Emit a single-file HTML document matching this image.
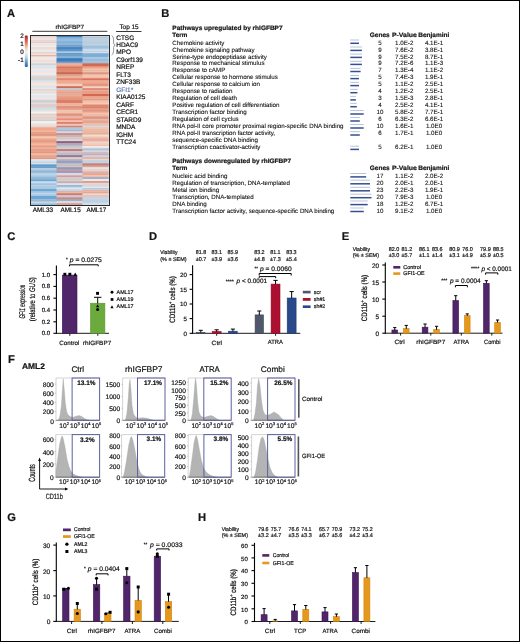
<!DOCTYPE html>
<html><head><meta charset="utf-8"><title>Figure</title>
<style>
html,body{margin:0;padding:0;background:#fff;}
body{width:520px;height:642px;overflow:hidden;}
#fig{position:relative;width:520px;height:642px;box-sizing:border-box;border:1px solid #000;background:#fff;}
svg{position:absolute;left:-1px;top:-1px;display:block;will-change:transform;}
svg text{font-family:"Liberation Sans",sans-serif;text-rendering:geometricPrecision;stroke:#141414;stroke-width:0.2px;}
svg text.tb{stroke-width:0.1px;}
</style></head>
<body><div id="fig">
<svg width="520" height="642" viewBox="0 0 520 642">
<text x="7.1" y="17.1" font-size="11.2" font-weight="bold" fill="#141414">A</text>
<text x="161.3" y="17.2" font-size="11.2" font-weight="bold" fill="#141414">B</text>
<text x="7.3" y="239.79999999999998" font-size="11.2" font-weight="bold" fill="#141414">C</text>
<text x="149.0" y="239.79999999999998" font-size="11.2" font-weight="bold" fill="#141414">D</text>
<text x="341.7" y="240.2" font-size="11.2" font-weight="bold" fill="#141414">E</text>
<text x="7.9" y="362.8" font-size="11.2" font-weight="bold" fill="#141414">F</text>
<text x="7.2" y="520.7" font-size="11.2" font-weight="bold" fill="#141414">G</text>
<text x="197.9" y="520.7" font-size="11.2" font-weight="bold" fill="#141414">H</text>
<rect x="30.80" y="35.40" width="26.50" height="1.70" fill="#f0eeee"/>
<rect x="30.80" y="36.80" width="26.50" height="5.00" fill="#f3e6e1"/>
<rect x="30.80" y="41.50" width="26.50" height="1.80" fill="#e9d2d5"/>
<rect x="30.80" y="43.00" width="26.50" height="5.30" fill="#f0eae8"/>
<rect x="30.80" y="48.00" width="26.50" height="2.30" fill="#f3e6e1"/>
<rect x="30.80" y="50.00" width="26.50" height="5.30" fill="#efeae8"/>
<rect x="30.80" y="55.00" width="26.50" height="1.30" fill="#efa292"/>
<rect x="30.80" y="56.00" width="26.50" height="7.80" fill="#f3e6e2"/>
<rect x="30.80" y="63.50" width="26.50" height="2.80" fill="#dee6ec"/>
<rect x="30.80" y="66.00" width="26.50" height="2.30" fill="#d5e1ea"/>
<rect x="30.80" y="68.00" width="26.50" height="2.30" fill="#f1e5e2"/>
<rect x="30.80" y="70.00" width="26.50" height="2.30" fill="#e9e8eb"/>
<rect x="30.80" y="72.00" width="26.50" height="2.30" fill="#efe6e5"/>
<rect x="30.80" y="74.00" width="26.50" height="2.30" fill="#e4e8ec"/>
<rect x="30.80" y="76.00" width="26.50" height="2.30" fill="#f3e3da"/>
<rect x="30.80" y="78.00" width="26.50" height="4.30" fill="#e0e7ec"/>
<rect x="30.80" y="82.00" width="26.50" height="4.30" fill="#f2e5df"/>
<rect x="30.80" y="86.00" width="26.50" height="2.30" fill="#dce6ec"/>
<rect x="30.80" y="88.00" width="26.50" height="4.30" fill="#f1e4df"/>
<rect x="30.80" y="92.00" width="26.50" height="3.30" fill="#f2efee"/>
<rect x="30.80" y="95.00" width="26.50" height="2.30" fill="#dce6ee"/>
<rect x="30.80" y="97.00" width="26.50" height="3.30" fill="#efe2de"/>
<rect x="30.80" y="100.00" width="26.50" height="2.30" fill="#d6e3ed"/>
<rect x="30.80" y="102.00" width="26.50" height="2.30" fill="#efe4e1"/>
<rect x="30.80" y="104.00" width="26.50" height="4.30" fill="#ebe2e0"/>
<rect x="30.80" y="108.00" width="26.50" height="2.30" fill="#e0e8ee"/>
<rect x="30.80" y="110.00" width="26.50" height="3.30" fill="#f3f2f1"/>
<rect x="30.80" y="113.00" width="26.50" height="5.30" fill="#efe0da"/>
<rect x="30.80" y="118.00" width="26.50" height="3.30" fill="#ebe0dd"/>
<rect x="30.80" y="121.00" width="26.50" height="4.30" fill="#f3f0ef"/>
<rect x="30.80" y="125.00" width="26.50" height="2.60" fill="#f0dcd5"/>
<rect x="30.80" y="127.30" width="26.50" height="3.00" fill="#f0a48a"/>
<rect x="30.80" y="130.00" width="26.50" height="2.30" fill="#f3b49e"/>
<rect x="30.80" y="132.00" width="26.50" height="4.30" fill="#efa58b"/>
<rect x="30.80" y="136.00" width="26.50" height="2.30" fill="#f4bda8"/>
<rect x="30.80" y="138.00" width="26.50" height="5.30" fill="#f0a68d"/>
<rect x="30.80" y="143.00" width="26.50" height="2.30" fill="#f3b7a2"/>
<rect x="30.80" y="145.00" width="26.50" height="6.80" fill="#f0a78e"/>
<rect x="30.80" y="151.50" width="26.50" height="1.60" fill="#e78b76"/>
<rect x="30.80" y="152.80" width="26.50" height="3.50" fill="#f3b9a3"/>
<rect x="30.80" y="156.00" width="26.50" height="2.30" fill="#f0ac94"/>
<rect x="30.80" y="158.00" width="26.50" height="1.30" fill="#e9977f"/>
<rect x="30.80" y="159.00" width="26.50" height="6.10" fill="#d6e2ec"/>
<rect x="30.80" y="164.80" width="26.50" height="3.80" fill="#5f9bcd"/>
<rect x="30.80" y="168.30" width="26.50" height="2.00" fill="#c4d9ea"/>
<rect x="30.80" y="170.00" width="26.50" height="3.30" fill="#9fc3e2"/>
<rect x="30.80" y="173.00" width="26.50" height="2.30" fill="#b7d2e8"/>
<rect x="30.80" y="175.00" width="26.50" height="4.30" fill="#a2c5e3"/>
<rect x="30.80" y="179.00" width="26.50" height="2.30" fill="#6ea6d4"/>
<rect x="30.80" y="181.00" width="26.50" height="2.30" fill="#c8dcec"/>
<rect x="30.80" y="183.00" width="26.50" height="2.30" fill="#9ec3e2"/>
<rect x="30.80" y="185.00" width="26.50" height="1.80" fill="#c8dcec"/>
<rect x="30.80" y="186.50" width="26.50" height="2.80" fill="#a5c7e4"/>
<rect x="30.80" y="189.00" width="26.50" height="2.30" fill="#6ea6d4"/>
<rect x="30.80" y="191.00" width="26.50" height="2.30" fill="#a9cae6"/>
<rect x="30.80" y="193.00" width="26.50" height="1.80" fill="#cfe0ee"/>
<rect x="30.80" y="194.50" width="26.50" height="1.80" fill="#9ec3e2"/>
<rect x="30.80" y="196.00" width="26.50" height="3.30" fill="#6ea6d4"/>
<rect x="30.80" y="199.00" width="26.50" height="2.30" fill="#a7c8e4"/>
<rect x="30.80" y="201.00" width="26.50" height="2.30" fill="#c8dcec"/>
<rect x="30.80" y="203.00" width="26.50" height="2.50" fill="#8bb9de"/>
<rect x="30.80" y="35.40" width="26.50" height="1.00" fill="#dcdada"/>
<rect x="30.80" y="36.40" width="26.50" height="1.00" fill="#daceca"/>
<rect x="30.80" y="37.40" width="26.50" height="1.00" fill="#ebdfda"/>
<rect x="30.80" y="38.40" width="26.50" height="1.00" fill="#f3e6e1"/>
<rect x="30.80" y="39.40" width="26.50" height="1.00" fill="#efe2dd"/>
<rect x="30.80" y="40.40" width="26.50" height="1.00" fill="#dbcfcb"/>
<rect x="30.80" y="41.40" width="26.50" height="1.00" fill="#ecd8da"/>
<rect x="30.80" y="42.40" width="26.50" height="1.00" fill="#dac4c7"/>
<rect x="30.80" y="43.40" width="26.50" height="1.00" fill="#f3eeec"/>
<rect x="30.80" y="44.40" width="26.50" height="1.00" fill="#eae4e2"/>
<rect x="30.80" y="46.40" width="26.50" height="1.00" fill="#f2edeb"/>
<rect x="30.80" y="47.40" width="26.50" height="1.00" fill="#dcd6d4"/>
<rect x="30.80" y="48.40" width="26.50" height="1.00" fill="#e8dbd7"/>
<rect x="30.80" y="50.40" width="26.50" height="1.00" fill="#f0ebe9"/>
<rect x="30.80" y="51.40" width="26.50" height="1.00" fill="#e8e3e1"/>
<rect x="30.80" y="52.40" width="26.50" height="1.00" fill="#d6d1d0"/>
<rect x="30.80" y="53.40" width="26.50" height="1.00" fill="#ded9d8"/>
<rect x="30.80" y="54.40" width="26.50" height="1.00" fill="#ebe6e4"/>
<rect x="30.80" y="55.40" width="26.50" height="1.00" fill="#f0a596"/>
<rect x="30.80" y="56.40" width="26.50" height="1.00" fill="#e7dbd7"/>
<rect x="30.80" y="57.40" width="26.50" height="1.00" fill="#f4e8e4"/>
<rect x="30.80" y="58.40" width="26.50" height="1.00" fill="#f3e7e3"/>
<rect x="30.80" y="59.40" width="26.50" height="1.00" fill="#f5eae6"/>
<rect x="30.80" y="60.40" width="26.50" height="1.00" fill="#e7dad6"/>
<rect x="30.80" y="62.40" width="26.50" height="1.00" fill="#eee1de"/>
<rect x="30.80" y="63.40" width="26.50" height="1.00" fill="#cbd3d8"/>
<rect x="30.80" y="64.40" width="26.50" height="1.00" fill="#c5cdd2"/>
<rect x="30.80" y="65.40" width="26.50" height="1.00" fill="#e1e9ee"/>
<rect x="30.80" y="66.40" width="26.50" height="1.00" fill="#dbe6ed"/>
<rect x="30.80" y="67.40" width="26.50" height="1.00" fill="#d8e3ec"/>
<rect x="30.80" y="68.40" width="26.50" height="1.00" fill="#f1e6e3"/>
<rect x="30.80" y="69.40" width="26.50" height="1.00" fill="#f3e9e6"/>
<rect x="30.80" y="71.40" width="26.50" height="1.00" fill="#eaeaec"/>
<rect x="30.80" y="72.40" width="26.50" height="1.00" fill="#f0e8e7"/>
<rect x="30.80" y="73.40" width="26.50" height="1.00" fill="#f2ebea"/>
<rect x="30.80" y="75.40" width="26.50" height="1.00" fill="#dee2e6"/>
<rect x="30.80" y="76.40" width="26.50" height="1.00" fill="#d7c9c1"/>
<rect x="30.80" y="77.40" width="26.50" height="1.00" fill="#e0d1c9"/>
<rect x="30.80" y="78.40" width="26.50" height="1.00" fill="#c8cfd3"/>
<rect x="30.80" y="79.40" width="26.50" height="1.00" fill="#ccd2d7"/>
<rect x="30.80" y="80.40" width="26.50" height="1.00" fill="#dae1e6"/>
<rect x="30.80" y="82.40" width="26.50" height="1.00" fill="#efe2dc"/>
<rect x="30.80" y="83.40" width="26.50" height="1.00" fill="#f4e9e4"/>
<rect x="30.80" y="86.40" width="26.50" height="1.00" fill="#d8e1e7"/>
<rect x="30.80" y="87.40" width="26.50" height="1.00" fill="#e1eaef"/>
<rect x="30.80" y="89.40" width="26.50" height="1.00" fill="#ded2ce"/>
<rect x="30.80" y="90.40" width="26.50" height="1.00" fill="#e2d5d1"/>
<rect x="30.80" y="91.40" width="26.50" height="1.00" fill="#f1e5e0"/>
<rect x="30.80" y="92.40" width="26.50" height="1.00" fill="#d5d3d2"/>
<rect x="30.80" y="93.40" width="26.50" height="1.00" fill="#eae8e7"/>
<rect x="30.80" y="94.40" width="26.50" height="1.00" fill="#f4f2f1"/>
<rect x="30.80" y="95.40" width="26.50" height="1.00" fill="#dce6ee"/>
<rect x="30.80" y="96.40" width="26.50" height="1.00" fill="#dee8ef"/>
<rect x="30.80" y="97.40" width="26.50" height="1.00" fill="#f2e7e3"/>
<rect x="30.80" y="98.40" width="26.50" height="1.00" fill="#f1e6e3"/>
<rect x="30.80" y="99.40" width="26.50" height="1.00" fill="#e9dcd8"/>
<rect x="30.80" y="100.40" width="26.50" height="1.00" fill="#c2cdd6"/>
<rect x="30.80" y="101.40" width="26.50" height="1.00" fill="#c0cbd4"/>
<rect x="30.80" y="102.40" width="26.50" height="1.00" fill="#ded4d1"/>
<rect x="30.80" y="103.40" width="26.50" height="1.00" fill="#e6dbd8"/>
<rect x="30.80" y="104.40" width="26.50" height="1.00" fill="#cfc7c5"/>
<rect x="30.80" y="105.40" width="26.50" height="1.00" fill="#d5cccb"/>
<rect x="30.80" y="106.40" width="26.50" height="1.00" fill="#d0c8c6"/>
<rect x="30.80" y="108.40" width="26.50" height="1.00" fill="#cdd4da"/>
<rect x="30.80" y="109.40" width="26.50" height="1.00" fill="#d8e0e5"/>
<rect x="30.80" y="110.40" width="26.50" height="1.00" fill="#dddcdb"/>
<rect x="30.80" y="113.40" width="26.50" height="1.00" fill="#eedfd9"/>
<rect x="30.80" y="114.40" width="26.50" height="1.00" fill="#d8cbc5"/>
<rect x="30.80" y="115.40" width="26.50" height="1.00" fill="#e2d3ce"/>
<rect x="30.80" y="117.40" width="26.50" height="1.00" fill="#d4c6c1"/>
<rect x="30.80" y="119.40" width="26.50" height="1.00" fill="#d7cdca"/>
<rect x="30.80" y="120.40" width="26.50" height="1.00" fill="#d0c7c4"/>
<rect x="30.80" y="121.40" width="26.50" height="1.00" fill="#f5f3f2"/>
<rect x="30.80" y="123.40" width="26.50" height="1.00" fill="#e5e2e1"/>
<rect x="30.80" y="124.40" width="26.50" height="1.00" fill="#e0dddc"/>
<rect x="30.80" y="125.40" width="26.50" height="1.00" fill="#f0dcd6"/>
<rect x="30.80" y="126.40" width="26.50" height="1.00" fill="#e6d3cc"/>
<rect x="30.80" y="127.40" width="26.50" height="1.00" fill="#f2af99"/>
<rect x="30.80" y="132.40" width="26.50" height="1.00" fill="#df9a82"/>
<rect x="30.80" y="133.40" width="26.50" height="1.00" fill="#e79f86"/>
<rect x="30.80" y="134.40" width="26.50" height="1.00" fill="#d4927b"/>
<rect x="30.80" y="135.40" width="26.50" height="1.00" fill="#e19b83"/>
<rect x="30.80" y="136.40" width="26.50" height="1.00" fill="#f6c9b8"/>
<rect x="30.80" y="137.40" width="26.50" height="1.00" fill="#f6c9b7"/>
<rect x="30.80" y="140.40" width="26.50" height="1.00" fill="#e09b84"/>
<rect x="30.80" y="141.40" width="26.50" height="1.00" fill="#df9a83"/>
<rect x="30.80" y="142.40" width="26.50" height="1.00" fill="#f1aa93"/>
<rect x="30.80" y="145.40" width="26.50" height="1.00" fill="#f1ac95"/>
<rect x="30.80" y="146.40" width="26.50" height="1.00" fill="#d89680"/>
<rect x="30.80" y="147.40" width="26.50" height="1.00" fill="#f2b5a1"/>
<rect x="30.80" y="148.40" width="26.50" height="1.00" fill="#f2b099"/>
<rect x="30.80" y="149.40" width="26.50" height="1.00" fill="#dd9a83"/>
<rect x="30.80" y="150.40" width="26.50" height="1.00" fill="#e6a088"/>
<rect x="30.80" y="153.40" width="26.50" height="1.00" fill="#edb59f"/>
<rect x="30.80" y="155.40" width="26.50" height="1.00" fill="#e0aa96"/>
<rect x="30.80" y="156.40" width="26.50" height="1.00" fill="#dc9e88"/>
<rect x="30.80" y="159.40" width="26.50" height="1.00" fill="#dbe6ee"/>
<rect x="30.80" y="161.40" width="26.50" height="1.00" fill="#cedae4"/>
<rect x="30.80" y="162.40" width="26.50" height="1.00" fill="#c3ced7"/>
<rect x="30.80" y="163.40" width="26.50" height="1.00" fill="#dee7f0"/>
<rect x="30.80" y="164.40" width="26.50" height="1.00" fill="#619cce"/>
<rect x="30.80" y="166.40" width="26.50" height="1.00" fill="#77aad4"/>
<rect x="30.80" y="168.40" width="26.50" height="1.00" fill="#b8ccdc"/>
<rect x="30.80" y="169.40" width="26.50" height="1.00" fill="#b8cbdb"/>
<rect x="30.80" y="170.40" width="26.50" height="1.00" fill="#96b8d5"/>
<rect x="30.80" y="171.40" width="26.50" height="1.00" fill="#91b2ce"/>
<rect x="30.80" y="173.40" width="26.50" height="1.00" fill="#b5d0e6"/>
<rect x="30.80" y="174.40" width="26.50" height="1.00" fill="#c3d9ec"/>
<rect x="30.80" y="175.40" width="26.50" height="1.00" fill="#b2cfe8"/>
<rect x="30.80" y="176.40" width="26.50" height="1.00" fill="#a3c6e3"/>
<rect x="30.80" y="177.40" width="26.50" height="1.00" fill="#8faec9"/>
<rect x="30.80" y="178.40" width="26.50" height="1.00" fill="#96b6d2"/>
<rect x="30.80" y="179.40" width="26.50" height="1.00" fill="#7fb1d9"/>
<rect x="30.80" y="180.40" width="26.50" height="1.00" fill="#6da5d3"/>
<rect x="30.80" y="181.40" width="26.50" height="1.00" fill="#c9ddec"/>
<rect x="30.80" y="182.40" width="26.50" height="1.00" fill="#c8dcec"/>
<rect x="30.80" y="183.40" width="26.50" height="1.00" fill="#a9cae5"/>
<rect x="30.80" y="184.40" width="26.50" height="1.00" fill="#a0c4e3"/>
<rect x="30.80" y="185.40" width="26.50" height="1.00" fill="#bdd0df"/>
<rect x="30.80" y="186.40" width="26.50" height="1.00" fill="#a5c7e4"/>
<rect x="30.80" y="187.40" width="26.50" height="1.00" fill="#aecde7"/>
<rect x="30.80" y="189.40" width="26.50" height="1.00" fill="#75aad6"/>
<rect x="30.80" y="190.40" width="26.50" height="1.00" fill="#6fa6d4"/>
<rect x="30.80" y="191.40" width="26.50" height="1.00" fill="#a7c8e3"/>
<rect x="30.80" y="192.40" width="26.50" height="1.00" fill="#a8c9e5"/>
<rect x="30.80" y="194.40" width="26.50" height="1.00" fill="#adcce6"/>
<rect x="30.80" y="196.40" width="26.50" height="1.00" fill="#71a8d5"/>
<rect x="30.80" y="199.40" width="26.50" height="1.00" fill="#98b6cf"/>
<rect x="30.80" y="200.40" width="26.50" height="1.00" fill="#96b3cd"/>
<rect x="30.80" y="201.40" width="26.50" height="1.00" fill="#b4c5d4"/>
<rect x="30.80" y="202.40" width="26.50" height="1.00" fill="#cee0ee"/>
<rect x="30.80" y="204.40" width="26.50" height="1.00" fill="#95bfe1"/>
<rect x="56.70" y="35.40" width="26.50" height="1.70" fill="#3b7dbc"/>
<rect x="56.70" y="36.80" width="26.50" height="2.50" fill="#7eaed8"/>
<rect x="56.70" y="39.00" width="26.50" height="2.30" fill="#98bfe0"/>
<rect x="56.70" y="41.00" width="26.50" height="2.30" fill="#86b3da"/>
<rect x="56.70" y="43.00" width="26.50" height="2.30" fill="#97bee0"/>
<rect x="56.70" y="45.00" width="26.50" height="2.30" fill="#7aabd6"/>
<rect x="56.70" y="47.00" width="26.50" height="4.30" fill="#4587c3"/>
<rect x="56.70" y="51.00" width="26.50" height="2.30" fill="#a9c9e4"/>
<rect x="56.70" y="53.00" width="26.50" height="3.30" fill="#6099cc"/>
<rect x="56.70" y="56.00" width="26.50" height="2.30" fill="#8fb9dd"/>
<rect x="56.70" y="58.00" width="26.50" height="5.10" fill="#3f83c2"/>
<rect x="56.70" y="62.80" width="26.50" height="0.90" fill="#8aa0c0"/>
<rect x="56.70" y="63.40" width="26.50" height="2.90" fill="#f0a78e"/>
<rect x="56.70" y="66.00" width="26.50" height="2.30" fill="#e07a62"/>
<rect x="56.70" y="68.00" width="26.50" height="4.30" fill="#eb9378"/>
<rect x="56.70" y="72.00" width="26.50" height="2.30" fill="#d66f5a"/>
<rect x="56.70" y="74.00" width="26.50" height="4.30" fill="#f2b49d"/>
<rect x="56.70" y="78.00" width="26.50" height="2.30" fill="#de7b63"/>
<rect x="56.70" y="80.00" width="26.50" height="4.30" fill="#f0ab92"/>
<rect x="56.70" y="84.00" width="26.50" height="2.30" fill="#f7cbb9"/>
<rect x="56.70" y="86.00" width="26.50" height="2.30" fill="#d97560"/>
<rect x="56.70" y="88.00" width="26.50" height="2.30" fill="#c8d3e0"/>
<rect x="56.70" y="90.00" width="26.50" height="3.30" fill="#efa68d"/>
<rect x="56.70" y="93.00" width="26.50" height="3.30" fill="#f2b7a1"/>
<rect x="56.70" y="96.00" width="26.50" height="4.30" fill="#eb9b82"/>
<rect x="56.70" y="100.00" width="26.50" height="3.30" fill="#e0806a"/>
<rect x="56.70" y="103.00" width="26.50" height="3.30" fill="#f3bba6"/>
<rect x="56.70" y="106.00" width="26.50" height="4.30" fill="#ec9c84"/>
<rect x="56.70" y="110.00" width="26.50" height="3.30" fill="#f4c7b6"/>
<rect x="56.70" y="113.00" width="26.50" height="3.30" fill="#eda08a"/>
<rect x="56.70" y="116.00" width="26.50" height="2.30" fill="#f0b29e"/>
<rect x="56.70" y="118.00" width="26.50" height="2.30" fill="#e48d78"/>
<rect x="56.70" y="120.00" width="26.50" height="2.30" fill="#f2bba8"/>
<rect x="56.70" y="122.00" width="26.50" height="2.30" fill="#e07f6a"/>
<rect x="56.70" y="124.00" width="26.50" height="2.30" fill="#f5cab9"/>
<rect x="56.70" y="126.00" width="26.50" height="1.80" fill="#dd7a67"/>
<rect x="56.70" y="127.50" width="26.50" height="3.80" fill="#a9c6e0"/>
<rect x="56.70" y="131.00" width="26.50" height="2.30" fill="#f0cfc4"/>
<rect x="56.70" y="133.00" width="26.50" height="2.30" fill="#b4a0b8"/>
<rect x="56.70" y="135.00" width="26.50" height="2.30" fill="#f0b8a0"/>
<rect x="56.70" y="137.00" width="26.50" height="2.30" fill="#c3cedc"/>
<rect x="56.70" y="139.00" width="26.50" height="2.30" fill="#ebcfca"/>
<rect x="56.70" y="141.00" width="26.50" height="2.30" fill="#8d6b8f"/>
<rect x="56.70" y="143.00" width="26.50" height="2.30" fill="#cdb6c2"/>
<rect x="56.70" y="145.00" width="26.50" height="2.30" fill="#b0cbe2"/>
<rect x="56.70" y="147.00" width="26.50" height="2.30" fill="#efc8bc"/>
<rect x="56.70" y="149.00" width="26.50" height="2.30" fill="#a38aa2"/>
<rect x="56.70" y="151.00" width="26.50" height="2.30" fill="#f0b49c"/>
<rect x="56.70" y="153.00" width="26.50" height="2.30" fill="#a8c6e0"/>
<rect x="56.70" y="155.00" width="26.50" height="2.30" fill="#9d7f98"/>
<rect x="56.70" y="157.00" width="26.50" height="2.30" fill="#f3c5b4"/>
<rect x="56.70" y="159.00" width="26.50" height="2.30" fill="#8fb8dc"/>
<rect x="56.70" y="161.00" width="26.50" height="2.30" fill="#a88da5"/>
<rect x="56.70" y="163.00" width="26.50" height="2.30" fill="#b4cfe6"/>
<rect x="56.70" y="165.00" width="26.50" height="2.30" fill="#ecc2b8"/>
<rect x="56.70" y="167.00" width="26.50" height="2.30" fill="#7ea7d2"/>
<rect x="56.70" y="169.00" width="26.50" height="2.30" fill="#c98f95"/>
<rect x="56.70" y="171.00" width="26.50" height="2.30" fill="#8e95bd"/>
<rect x="56.70" y="173.00" width="26.50" height="2.30" fill="#e6dde0"/>
<rect x="56.70" y="175.00" width="26.50" height="2.30" fill="#c7a2ad"/>
<rect x="56.70" y="177.00" width="26.50" height="2.30" fill="#f0d6ce"/>
<rect x="56.70" y="179.00" width="26.50" height="2.30" fill="#c4cfdc"/>
<rect x="56.70" y="181.00" width="26.50" height="2.30" fill="#dcb5b5"/>
<rect x="56.70" y="183.00" width="26.50" height="2.30" fill="#dfe0e5"/>
<rect x="56.70" y="185.00" width="26.50" height="2.30" fill="#94b9dc"/>
<rect x="56.70" y="187.00" width="26.50" height="2.30" fill="#e8e4e6"/>
<rect x="56.70" y="189.00" width="26.50" height="2.30" fill="#bcd2e7"/>
<rect x="56.70" y="191.00" width="26.50" height="2.30" fill="#eab3a3"/>
<rect x="56.70" y="193.00" width="26.50" height="2.30" fill="#da7f6e"/>
<rect x="56.70" y="195.00" width="26.50" height="2.30" fill="#b5cde4"/>
<rect x="56.70" y="197.00" width="26.50" height="2.30" fill="#e68c76"/>
<rect x="56.70" y="199.00" width="26.50" height="2.30" fill="#98b9db"/>
<rect x="56.70" y="201.00" width="26.50" height="2.30" fill="#e4e2e6"/>
<rect x="56.70" y="203.00" width="26.50" height="2.50" fill="#dfa79c"/>
<rect x="56.70" y="35.40" width="26.50" height="1.00" fill="#3672ac"/>
<rect x="56.70" y="38.40" width="26.50" height="1.00" fill="#95bddf"/>
<rect x="56.70" y="39.40" width="26.50" height="1.00" fill="#98bedf"/>
<rect x="56.70" y="42.40" width="26.50" height="1.00" fill="#84b0d6"/>
<rect x="56.70" y="43.40" width="26.50" height="1.00" fill="#91b7d7"/>
<rect x="56.70" y="44.40" width="26.50" height="1.00" fill="#90b6d6"/>
<rect x="56.70" y="45.40" width="26.50" height="1.00" fill="#6c97bd"/>
<rect x="56.70" y="46.40" width="26.50" height="1.00" fill="#78a9d3"/>
<rect x="56.70" y="47.40" width="26.50" height="1.00" fill="#4282bb"/>
<rect x="56.70" y="48.40" width="26.50" height="1.00" fill="#4688c3"/>
<rect x="56.70" y="49.40" width="26.50" height="1.00" fill="#699ecf"/>
<rect x="56.70" y="50.40" width="26.50" height="1.00" fill="#689ece"/>
<rect x="56.70" y="51.40" width="26.50" height="1.00" fill="#9fbed7"/>
<rect x="56.70" y="52.40" width="26.50" height="1.00" fill="#b3cfe7"/>
<rect x="56.70" y="53.40" width="26.50" height="1.00" fill="#578bba"/>
<rect x="56.70" y="54.40" width="26.50" height="1.00" fill="#7aaad4"/>
<rect x="56.70" y="56.40" width="26.50" height="1.00" fill="#83a9ca"/>
<rect x="56.70" y="58.40" width="26.50" height="1.00" fill="#4e8dc7"/>
<rect x="56.70" y="59.40" width="26.50" height="1.00" fill="#3875ad"/>
<rect x="56.70" y="60.40" width="26.50" height="1.00" fill="#3e81bf"/>
<rect x="56.70" y="61.40" width="26.50" height="1.00" fill="#6199cd"/>
<rect x="56.70" y="62.40" width="26.50" height="1.00" fill="#98abc8"/>
<rect x="56.70" y="63.40" width="26.50" height="1.00" fill="#f2b49e"/>
<rect x="56.70" y="64.40" width="26.50" height="1.00" fill="#f2b49e"/>
<rect x="56.70" y="65.40" width="26.50" height="1.00" fill="#e7a189"/>
<rect x="56.70" y="66.40" width="26.50" height="1.00" fill="#e5917d"/>
<rect x="56.70" y="67.40" width="26.50" height="1.00" fill="#cc6f59"/>
<rect x="56.70" y="68.40" width="26.50" height="1.00" fill="#dc8a70"/>
<rect x="56.70" y="69.40" width="26.50" height="1.00" fill="#d8876e"/>
<rect x="56.70" y="70.40" width="26.50" height="1.00" fill="#da886f"/>
<rect x="56.70" y="71.40" width="26.50" height="1.00" fill="#e08c72"/>
<rect x="56.70" y="72.40" width="26.50" height="1.00" fill="#cb6955"/>
<rect x="56.70" y="73.40" width="26.50" height="1.00" fill="#c56653"/>
<rect x="56.70" y="74.40" width="26.50" height="1.00" fill="#d69f8b"/>
<rect x="56.70" y="75.40" width="26.50" height="1.00" fill="#d69f8b"/>
<rect x="56.70" y="76.40" width="26.50" height="1.00" fill="#f2b69f"/>
<rect x="56.70" y="77.40" width="26.50" height="1.00" fill="#f1b39c"/>
<rect x="56.70" y="79.40" width="26.50" height="1.00" fill="#e28c77"/>
<rect x="56.70" y="80.40" width="26.50" height="1.00" fill="#f0ab92"/>
<rect x="56.70" y="82.40" width="26.50" height="1.00" fill="#f0ab92"/>
<rect x="56.70" y="83.40" width="26.50" height="1.00" fill="#f3bba7"/>
<rect x="56.70" y="84.40" width="26.50" height="1.00" fill="#f8d2c2"/>
<rect x="56.70" y="85.40" width="26.50" height="1.00" fill="#f7cebd"/>
<rect x="56.70" y="86.40" width="26.50" height="1.00" fill="#d1715c"/>
<rect x="56.70" y="87.40" width="26.50" height="1.00" fill="#c66b57"/>
<rect x="56.70" y="88.40" width="26.50" height="1.00" fill="#cdd7e3"/>
<rect x="56.70" y="89.40" width="26.50" height="1.00" fill="#b8c2ce"/>
<rect x="56.70" y="90.40" width="26.50" height="1.00" fill="#f1b29d"/>
<rect x="56.70" y="92.40" width="26.50" height="1.00" fill="#e29d86"/>
<rect x="56.70" y="93.40" width="26.50" height="1.00" fill="#e6ae99"/>
<rect x="56.70" y="94.40" width="26.50" height="1.00" fill="#dea894"/>
<rect x="56.70" y="95.40" width="26.50" height="1.00" fill="#e4ad98"/>
<rect x="56.70" y="98.40" width="26.50" height="1.00" fill="#dd917a"/>
<rect x="56.70" y="100.40" width="26.50" height="1.00" fill="#d87c66"/>
<rect x="56.70" y="101.40" width="26.50" height="1.00" fill="#da7c67"/>
<rect x="56.70" y="102.40" width="26.50" height="1.00" fill="#e0806a"/>
<rect x="56.70" y="103.40" width="26.50" height="1.00" fill="#f3bba6"/>
<rect x="56.70" y="104.40" width="26.50" height="1.00" fill="#e5b09d"/>
<rect x="56.70" y="105.40" width="26.50" height="1.00" fill="#edb6a2"/>
<rect x="56.70" y="106.40" width="26.50" height="1.00" fill="#d18a75"/>
<rect x="56.70" y="107.40" width="26.50" height="1.00" fill="#dd927c"/>
<rect x="56.70" y="108.40" width="26.50" height="1.00" fill="#ec9d85"/>
<rect x="56.70" y="109.40" width="26.50" height="1.00" fill="#eda28c"/>
<rect x="56.70" y="110.40" width="26.50" height="1.00" fill="#f6cfc1"/>
<rect x="56.70" y="111.40" width="26.50" height="1.00" fill="#eabfae"/>
<rect x="56.70" y="113.40" width="26.50" height="1.00" fill="#efa994"/>
<rect x="56.70" y="114.40" width="26.50" height="1.00" fill="#d38e7b"/>
<rect x="56.70" y="117.40" width="26.50" height="1.00" fill="#f1b9a7"/>
<rect x="56.70" y="119.40" width="26.50" height="1.00" fill="#e48e79"/>
<rect x="56.70" y="120.40" width="26.50" height="1.00" fill="#f4c4b4"/>
<rect x="56.70" y="123.40" width="26.50" height="1.00" fill="#e59381"/>
<rect x="56.70" y="124.40" width="26.50" height="1.00" fill="#f6cebe"/>
<rect x="56.70" y="125.40" width="26.50" height="1.00" fill="#d9b3a4"/>
<rect x="56.70" y="126.40" width="26.50" height="1.00" fill="#d67664"/>
<rect x="56.70" y="127.40" width="26.50" height="1.00" fill="#b5cee4"/>
<rect x="56.70" y="128.40" width="26.50" height="1.00" fill="#adc9e2"/>
<rect x="56.70" y="129.40" width="26.50" height="1.00" fill="#afcae2"/>
<rect x="56.70" y="130.40" width="26.50" height="1.00" fill="#95aec5"/>
<rect x="56.70" y="131.40" width="26.50" height="1.00" fill="#f1d4ca"/>
<rect x="56.70" y="132.40" width="26.50" height="1.00" fill="#f0d0c5"/>
<rect x="56.70" y="133.40" width="26.50" height="1.00" fill="#a18fa5"/>
<rect x="56.70" y="134.40" width="26.50" height="1.00" fill="#a996ad"/>
<rect x="56.70" y="135.40" width="26.50" height="1.00" fill="#e2ae97"/>
<rect x="56.70" y="136.40" width="26.50" height="1.00" fill="#dfab95"/>
<rect x="56.70" y="137.40" width="26.50" height="1.00" fill="#ced7e3"/>
<rect x="56.70" y="138.40" width="26.50" height="1.00" fill="#bec8d6"/>
<rect x="56.70" y="139.40" width="26.50" height="1.00" fill="#ecd3ce"/>
<rect x="56.70" y="140.40" width="26.50" height="1.00" fill="#ecd1cc"/>
<rect x="56.70" y="141.40" width="26.50" height="1.00" fill="#7f6080"/>
<rect x="56.70" y="142.40" width="26.50" height="1.00" fill="#856587"/>
<rect x="56.70" y="143.40" width="26.50" height="1.00" fill="#c3adb9"/>
<rect x="56.70" y="144.40" width="26.50" height="1.00" fill="#b5a1ab"/>
<rect x="56.70" y="145.40" width="26.50" height="1.00" fill="#a6c0d5"/>
<rect x="56.70" y="146.40" width="26.50" height="1.00" fill="#b6cfe4"/>
<rect x="56.70" y="147.40" width="26.50" height="1.00" fill="#e3beb3"/>
<rect x="56.70" y="148.40" width="26.50" height="1.00" fill="#edc6ba"/>
<rect x="56.70" y="149.40" width="26.50" height="1.00" fill="#947d93"/>
<rect x="56.70" y="151.40" width="26.50" height="1.00" fill="#f3c2af"/>
<rect x="56.70" y="153.40" width="26.50" height="1.00" fill="#a6c4de"/>
<rect x="56.70" y="156.40" width="26.50" height="1.00" fill="#947890"/>
<rect x="56.70" y="157.40" width="26.50" height="1.00" fill="#f5cfc1"/>
<rect x="56.70" y="158.40" width="26.50" height="1.00" fill="#f3c7b6"/>
<rect x="56.70" y="159.40" width="26.50" height="1.00" fill="#90b9dc"/>
<rect x="56.70" y="161.40" width="26.50" height="1.00" fill="#b39cb1"/>
<rect x="56.70" y="162.40" width="26.50" height="1.00" fill="#b59fb3"/>
<rect x="56.70" y="163.40" width="26.50" height="1.00" fill="#a8c2d7"/>
<rect x="56.70" y="165.40" width="26.50" height="1.00" fill="#d1aca3"/>
<rect x="56.70" y="166.40" width="26.50" height="1.00" fill="#ecc2b8"/>
<rect x="56.70" y="167.40" width="26.50" height="1.00" fill="#789fc8"/>
<rect x="56.70" y="168.40" width="26.50" height="1.00" fill="#79a1ca"/>
<rect x="56.70" y="169.40" width="26.50" height="1.00" fill="#d09ea3"/>
<rect x="56.70" y="170.40" width="26.50" height="1.00" fill="#ce9aa0"/>
<rect x="56.70" y="172.40" width="26.50" height="1.00" fill="#a1a7c8"/>
<rect x="56.70" y="173.40" width="26.50" height="1.00" fill="#eae2e5"/>
<rect x="56.70" y="174.40" width="26.50" height="1.00" fill="#dfd6d9"/>
<rect x="56.70" y="175.40" width="26.50" height="1.00" fill="#d2b5bd"/>
<rect x="56.70" y="176.40" width="26.50" height="1.00" fill="#c09da7"/>
<rect x="56.70" y="177.40" width="26.50" height="1.00" fill="#e3cac3"/>
<rect x="56.70" y="178.40" width="26.50" height="1.00" fill="#d9c2ba"/>
<rect x="56.70" y="180.40" width="26.50" height="1.00" fill="#ced7e2"/>
<rect x="56.70" y="181.40" width="26.50" height="1.00" fill="#d0abab"/>
<rect x="56.70" y="182.40" width="26.50" height="1.00" fill="#cca8a8"/>
<rect x="56.70" y="183.40" width="26.50" height="1.00" fill="#e5e6ea"/>
<rect x="56.70" y="186.40" width="26.50" height="1.00" fill="#a6c5e2"/>
<rect x="56.70" y="188.40" width="26.50" height="1.00" fill="#eae6e8"/>
<rect x="56.70" y="189.40" width="26.50" height="1.00" fill="#c2d6e9"/>
<rect x="56.70" y="190.40" width="26.50" height="1.00" fill="#c3d7e9"/>
<rect x="56.70" y="191.40" width="26.50" height="1.00" fill="#deaa9b"/>
<rect x="56.70" y="192.40" width="26.50" height="1.00" fill="#eec0b3"/>
<rect x="56.70" y="193.40" width="26.50" height="1.00" fill="#d97e6d"/>
<rect x="56.70" y="194.40" width="26.50" height="1.00" fill="#cf7969"/>
<rect x="56.70" y="195.40" width="26.50" height="1.00" fill="#c3d7e9"/>
<rect x="56.70" y="196.40" width="26.50" height="1.00" fill="#bad0e6"/>
<rect x="56.70" y="197.40" width="26.50" height="1.00" fill="#e78f79"/>
<rect x="56.70" y="198.40" width="26.50" height="1.00" fill="#d4816d"/>
<rect x="56.70" y="199.40" width="26.50" height="1.00" fill="#8daccc"/>
<rect x="56.70" y="201.40" width="26.50" height="1.00" fill="#d5d3d7"/>
<rect x="56.70" y="204.40" width="26.50" height="1.00" fill="#cc998f"/>
<rect x="82.60" y="35.40" width="26.00" height="1.90" fill="#dde4ea"/>
<rect x="82.60" y="37.00" width="26.00" height="4.30" fill="#b8d2e6"/>
<rect x="82.60" y="41.00" width="26.00" height="2.30" fill="#c9d2de"/>
<rect x="82.60" y="43.00" width="26.00" height="2.30" fill="#b8d2e6"/>
<rect x="82.60" y="45.00" width="26.00" height="4.30" fill="#a5c5e0"/>
<rect x="82.60" y="49.00" width="26.00" height="4.30" fill="#d0e0ee"/>
<rect x="82.60" y="53.00" width="26.00" height="4.30" fill="#7fb0d8"/>
<rect x="82.60" y="57.00" width="26.00" height="3.30" fill="#a7c7e2"/>
<rect x="82.60" y="60.00" width="26.00" height="3.60" fill="#98bfdf"/>
<rect x="82.60" y="63.30" width="26.00" height="3.00" fill="#e27058"/>
<rect x="82.60" y="66.00" width="26.00" height="2.30" fill="#f1a98f"/>
<rect x="82.60" y="68.00" width="26.00" height="4.30" fill="#f6c3ae"/>
<rect x="82.60" y="72.00" width="26.00" height="2.30" fill="#eea28a"/>
<rect x="82.60" y="74.00" width="26.00" height="4.30" fill="#f5c2ad"/>
<rect x="82.60" y="78.00" width="26.00" height="2.30" fill="#e1705a"/>
<rect x="82.60" y="80.00" width="26.00" height="2.30" fill="#f0ae96"/>
<rect x="82.60" y="82.00" width="26.00" height="4.30" fill="#eea089"/>
<rect x="82.60" y="86.00" width="26.00" height="2.30" fill="#f8d5c5"/>
<rect x="82.60" y="88.00" width="26.00" height="2.30" fill="#e88c74"/>
<rect x="82.60" y="90.00" width="26.00" height="4.30" fill="#eea58d"/>
<rect x="82.60" y="94.00" width="26.00" height="2.30" fill="#de6a56"/>
<rect x="82.60" y="96.00" width="26.00" height="4.30" fill="#eea38b"/>
<rect x="82.60" y="100.00" width="26.00" height="4.30" fill="#f5c3ad"/>
<rect x="82.60" y="104.00" width="26.00" height="4.30" fill="#e78d76"/>
<rect x="82.60" y="108.00" width="26.00" height="4.30" fill="#efa58e"/>
<rect x="82.60" y="112.00" width="26.00" height="4.30" fill="#f4bca8"/>
<rect x="82.60" y="116.00" width="26.00" height="3.30" fill="#eea08a"/>
<rect x="82.60" y="119.00" width="26.00" height="1.80" fill="#cfd6e0"/>
<rect x="82.60" y="120.50" width="26.00" height="2.80" fill="#efa58c"/>
<rect x="82.60" y="123.00" width="26.00" height="2.30" fill="#f6cdbb"/>
<rect x="82.60" y="125.00" width="26.00" height="2.30" fill="#dde3ea"/>
<rect x="82.60" y="127.00" width="26.00" height="8.30" fill="#f3c0aa"/>
<rect x="82.60" y="135.00" width="26.00" height="2.30" fill="#f6dcd2"/>
<rect x="82.60" y="137.00" width="26.00" height="4.30" fill="#eeb29e"/>
<rect x="82.60" y="141.00" width="26.00" height="2.30" fill="#eed3cc"/>
<rect x="82.60" y="143.00" width="26.00" height="3.30" fill="#f3c6b6"/>
<rect x="82.60" y="146.00" width="26.00" height="2.30" fill="#f6f0ee"/>
<rect x="82.60" y="148.00" width="26.00" height="2.30" fill="#c0d4e7"/>
<rect x="82.60" y="150.00" width="26.00" height="2.30" fill="#d5dde7"/>
<rect x="82.60" y="152.00" width="26.00" height="3.30" fill="#d6b7bf"/>
<rect x="82.60" y="155.00" width="26.00" height="2.30" fill="#c6d9ea"/>
<rect x="82.60" y="157.00" width="26.00" height="2.30" fill="#eeb09c"/>
<rect x="82.60" y="159.00" width="26.00" height="2.30" fill="#d8dfe7"/>
<rect x="82.60" y="161.00" width="26.00" height="2.30" fill="#bcd4e8"/>
<rect x="82.60" y="163.00" width="26.00" height="2.80" fill="#c98585"/>
<rect x="82.60" y="165.50" width="26.00" height="1.80" fill="#eea48c"/>
<rect x="82.60" y="167.00" width="26.00" height="2.30" fill="#e3e3e6"/>
<rect x="82.60" y="169.00" width="26.00" height="2.30" fill="#eed9d3"/>
<rect x="82.60" y="171.00" width="26.00" height="2.30" fill="#d9b3b3"/>
<rect x="82.60" y="173.00" width="26.00" height="2.30" fill="#efa38c"/>
<rect x="82.60" y="175.00" width="26.00" height="2.30" fill="#f6c3ad"/>
<rect x="82.60" y="177.00" width="26.00" height="2.30" fill="#9ebbdb"/>
<rect x="82.60" y="179.00" width="26.00" height="2.30" fill="#ece6e6"/>
<rect x="82.60" y="181.00" width="26.00" height="2.30" fill="#e9957f"/>
<rect x="82.60" y="183.00" width="26.00" height="2.30" fill="#dfe1e6"/>
<rect x="82.60" y="185.00" width="26.00" height="3.30" fill="#e8e8ec"/>
<rect x="82.60" y="188.00" width="26.00" height="2.30" fill="#c1d5e8"/>
<rect x="82.60" y="190.00" width="26.00" height="3.30" fill="#f0b39c"/>
<rect x="82.60" y="193.00" width="26.00" height="2.30" fill="#f1d6cf"/>
<rect x="82.60" y="195.00" width="26.00" height="2.30" fill="#f4c8b8"/>
<rect x="82.60" y="197.00" width="26.00" height="2.30" fill="#c6daea"/>
<rect x="82.60" y="199.00" width="26.00" height="4.30" fill="#bed4e8"/>
<rect x="82.60" y="203.00" width="26.00" height="2.50" fill="#e4e8ee"/>
<rect x="82.60" y="35.40" width="26.00" height="1.00" fill="#c7ced3"/>
<rect x="82.60" y="36.40" width="26.00" height="1.00" fill="#c7ced3"/>
<rect x="82.60" y="37.40" width="26.00" height="1.00" fill="#adc6d9"/>
<rect x="82.60" y="38.40" width="26.00" height="1.00" fill="#c3d9ea"/>
<rect x="82.60" y="39.40" width="26.00" height="1.00" fill="#b4cee1"/>
<rect x="82.60" y="40.40" width="26.00" height="1.00" fill="#b9d2e6"/>
<rect x="82.60" y="41.40" width="26.00" height="1.00" fill="#c1cad5"/>
<rect x="82.60" y="42.40" width="26.00" height="1.00" fill="#bec7d2"/>
<rect x="82.60" y="44.40" width="26.00" height="1.00" fill="#b8d2e6"/>
<rect x="82.60" y="45.40" width="26.00" height="1.00" fill="#b2cde4"/>
<rect x="82.60" y="46.40" width="26.00" height="1.00" fill="#9cbad4"/>
<rect x="82.60" y="47.40" width="26.00" height="1.00" fill="#a1c0db"/>
<rect x="82.60" y="48.40" width="26.00" height="1.00" fill="#b5d0e6"/>
<rect x="82.60" y="51.40" width="26.00" height="1.00" fill="#b9c7d3"/>
<rect x="82.60" y="52.40" width="26.00" height="1.00" fill="#d7e5f1"/>
<rect x="82.60" y="53.40" width="26.00" height="1.00" fill="#83b3d9"/>
<rect x="82.60" y="54.40" width="26.00" height="1.00" fill="#7cabd2"/>
<rect x="82.60" y="59.40" width="26.00" height="1.00" fill="#97b4cd"/>
<rect x="82.60" y="60.40" width="26.00" height="1.00" fill="#99c0df"/>
<rect x="82.60" y="61.40" width="26.00" height="1.00" fill="#aacae5"/>
<rect x="82.60" y="62.40" width="26.00" height="1.00" fill="#9ec3e1"/>
<rect x="82.60" y="63.40" width="26.00" height="1.00" fill="#e06f57"/>
<rect x="82.60" y="64.40" width="26.00" height="1.00" fill="#c9644e"/>
<rect x="82.60" y="65.40" width="26.00" height="1.00" fill="#d36952"/>
<rect x="82.60" y="67.40" width="26.00" height="1.00" fill="#e6a188"/>
<rect x="82.60" y="68.40" width="26.00" height="1.00" fill="#e7b7a4"/>
<rect x="82.60" y="69.40" width="26.00" height="1.00" fill="#f7c8b4"/>
<rect x="82.60" y="70.40" width="26.00" height="1.00" fill="#ddaf9c"/>
<rect x="82.60" y="71.40" width="26.00" height="1.00" fill="#f6c5b1"/>
<rect x="82.60" y="72.40" width="26.00" height="1.00" fill="#de9781"/>
<rect x="82.60" y="73.40" width="26.00" height="1.00" fill="#d28f7a"/>
<rect x="82.60" y="74.40" width="26.00" height="1.00" fill="#f3c0ab"/>
<rect x="82.60" y="76.40" width="26.00" height="1.00" fill="#f7cbba"/>
<rect x="82.60" y="77.40" width="26.00" height="1.00" fill="#e5b6a2"/>
<rect x="82.60" y="78.40" width="26.00" height="1.00" fill="#e78a78"/>
<rect x="82.60" y="79.40" width="26.00" height="1.00" fill="#d76b56"/>
<rect x="82.60" y="80.40" width="26.00" height="1.00" fill="#f0ae96"/>
<rect x="82.60" y="81.40" width="26.00" height="1.00" fill="#ebab93"/>
<rect x="82.60" y="82.40" width="26.00" height="1.00" fill="#efa691"/>
<rect x="82.60" y="84.40" width="26.00" height="1.00" fill="#d38e7a"/>
<rect x="82.60" y="85.40" width="26.00" height="1.00" fill="#e99d86"/>
<rect x="82.60" y="86.40" width="26.00" height="1.00" fill="#e6c6b7"/>
<rect x="82.60" y="87.40" width="26.00" height="1.00" fill="#f9d9cb"/>
<rect x="82.60" y="88.40" width="26.00" height="1.00" fill="#d8826c"/>
<rect x="82.60" y="90.40" width="26.00" height="1.00" fill="#f0b19c"/>
<rect x="82.60" y="91.40" width="26.00" height="1.00" fill="#de9a84"/>
<rect x="82.60" y="92.40" width="26.00" height="1.00" fill="#e29d86"/>
<rect x="82.60" y="94.40" width="26.00" height="1.00" fill="#cd6250"/>
<rect x="82.60" y="95.40" width="26.00" height="1.00" fill="#da6854"/>
<rect x="82.60" y="96.40" width="26.00" height="1.00" fill="#f1b4a0"/>
<rect x="82.60" y="97.40" width="26.00" height="1.00" fill="#e89f87"/>
<rect x="82.60" y="98.40" width="26.00" height="1.00" fill="#f1b4a1"/>
<rect x="82.60" y="99.40" width="26.00" height="1.00" fill="#d4917c"/>
<rect x="82.60" y="100.40" width="26.00" height="1.00" fill="#efbea9"/>
<rect x="82.60" y="103.40" width="26.00" height="1.00" fill="#f7cfbd"/>
<rect x="82.60" y="105.40" width="26.00" height="1.00" fill="#d6826d"/>
<rect x="82.60" y="107.40" width="26.00" height="1.00" fill="#cd7d69"/>
<rect x="82.60" y="108.40" width="26.00" height="1.00" fill="#e8a08a"/>
<rect x="82.60" y="109.40" width="26.00" height="1.00" fill="#e59e88"/>
<rect x="82.60" y="110.40" width="26.00" height="1.00" fill="#d2917d"/>
<rect x="82.60" y="111.40" width="26.00" height="1.00" fill="#e69f89"/>
<rect x="82.60" y="113.40" width="26.00" height="1.00" fill="#f6c8b8"/>
<rect x="82.60" y="114.40" width="26.00" height="1.00" fill="#ecb6a2"/>
<rect x="82.60" y="117.40" width="26.00" height="1.00" fill="#d48f7b"/>
<rect x="82.60" y="118.40" width="26.00" height="1.00" fill="#e79b86"/>
<rect x="82.60" y="120.40" width="26.00" height="1.00" fill="#e7a087"/>
<rect x="82.60" y="122.40" width="26.00" height="1.00" fill="#eaa189"/>
<rect x="82.60" y="124.40" width="26.00" height="1.00" fill="#dbb6a6"/>
<rect x="82.60" y="125.40" width="26.00" height="1.00" fill="#c6cbd1"/>
<rect x="82.60" y="127.40" width="26.00" height="1.00" fill="#f4c6b2"/>
<rect x="82.60" y="129.40" width="26.00" height="1.00" fill="#e6b6a1"/>
<rect x="82.60" y="131.40" width="26.00" height="1.00" fill="#e5b5a0"/>
<rect x="82.60" y="132.40" width="26.00" height="1.00" fill="#e8b8a3"/>
<rect x="82.60" y="133.40" width="26.00" height="1.00" fill="#d6a996"/>
<rect x="82.60" y="134.40" width="26.00" height="1.00" fill="#f5cab8"/>
<rect x="82.60" y="135.40" width="26.00" height="1.00" fill="#f8e2da"/>
<rect x="82.60" y="136.40" width="26.00" height="1.00" fill="#e6cec5"/>
<rect x="82.60" y="137.40" width="26.00" height="1.00" fill="#f1c0b0"/>
<rect x="82.60" y="139.40" width="26.00" height="1.00" fill="#e0a795"/>
<rect x="82.60" y="140.40" width="26.00" height="1.00" fill="#eeb29e"/>
<rect x="82.60" y="142.40" width="26.00" height="1.00" fill="#f0d8d2"/>
<rect x="82.60" y="143.40" width="26.00" height="1.00" fill="#f5cdbf"/>
<rect x="82.60" y="144.40" width="26.00" height="1.00" fill="#f4c8b9"/>
<rect x="82.60" y="145.40" width="26.00" height="1.00" fill="#e8bdae"/>
<rect x="82.60" y="146.40" width="26.00" height="1.00" fill="#f7f2f0"/>
<rect x="82.60" y="147.40" width="26.00" height="1.00" fill="#e4dfdd"/>
<rect x="82.60" y="148.40" width="26.00" height="1.00" fill="#b4c7d9"/>
<rect x="82.60" y="149.40" width="26.00" height="1.00" fill="#abbccd"/>
<rect x="82.60" y="150.40" width="26.00" height="1.00" fill="#ccd4dd"/>
<rect x="82.60" y="154.40" width="26.00" height="1.00" fill="#c1a5ac"/>
<rect x="82.60" y="155.40" width="26.00" height="1.00" fill="#c6d9ea"/>
<rect x="82.60" y="156.40" width="26.00" height="1.00" fill="#c3d6e7"/>
<rect x="82.60" y="157.40" width="26.00" height="1.00" fill="#e9ac99"/>
<rect x="82.60" y="158.40" width="26.00" height="1.00" fill="#efb6a3"/>
<rect x="82.60" y="159.40" width="26.00" height="1.00" fill="#dde3ea"/>
<rect x="82.60" y="160.40" width="26.00" height="1.00" fill="#c4cbd2"/>
<rect x="82.60" y="162.40" width="26.00" height="1.00" fill="#bed5e9"/>
<rect x="82.60" y="163.40" width="26.00" height="1.00" fill="#ce9191"/>
<rect x="82.60" y="164.40" width="26.00" height="1.00" fill="#bd7d7d"/>
<rect x="82.60" y="165.40" width="26.00" height="1.00" fill="#da9680"/>
<rect x="82.60" y="167.40" width="26.00" height="1.00" fill="#dadadc"/>
<rect x="82.60" y="168.40" width="26.00" height="1.00" fill="#e9e9eb"/>
<rect x="82.60" y="169.40" width="26.00" height="1.00" fill="#dfcbc5"/>
<rect x="82.60" y="171.40" width="26.00" height="1.00" fill="#e0c2c2"/>
<rect x="82.60" y="172.40" width="26.00" height="1.00" fill="#d8b2b2"/>
<rect x="82.60" y="176.40" width="26.00" height="1.00" fill="#eab9a4"/>
<rect x="82.60" y="177.40" width="26.00" height="1.00" fill="#92adcb"/>
<rect x="82.60" y="179.40" width="26.00" height="1.00" fill="#efeaea"/>
<rect x="82.60" y="180.40" width="26.00" height="1.00" fill="#efeaea"/>
<rect x="82.60" y="181.40" width="26.00" height="1.00" fill="#dc8c78"/>
<rect x="82.60" y="182.40" width="26.00" height="1.00" fill="#eda896"/>
<rect x="82.60" y="183.40" width="26.00" height="1.00" fill="#e0e2e7"/>
<rect x="82.60" y="184.40" width="26.00" height="1.00" fill="#d0d2d6"/>
<rect x="82.60" y="185.40" width="26.00" height="1.00" fill="#d4d4d8"/>
<rect x="82.60" y="186.40" width="26.00" height="1.00" fill="#dadade"/>
<rect x="82.60" y="187.40" width="26.00" height="1.00" fill="#e9e9ed"/>
<rect x="82.60" y="188.40" width="26.00" height="1.00" fill="#aabccd"/>
<rect x="82.60" y="189.40" width="26.00" height="1.00" fill="#c5d8ea"/>
<rect x="82.60" y="190.40" width="26.00" height="1.00" fill="#e5ab95"/>
<rect x="82.60" y="191.40" width="26.00" height="1.00" fill="#f2bca8"/>
<rect x="82.60" y="192.40" width="26.00" height="1.00" fill="#d7a08c"/>
<rect x="82.60" y="193.40" width="26.00" height="1.00" fill="#ebd1ca"/>
<rect x="82.60" y="194.40" width="26.00" height="1.00" fill="#f2d8d2"/>
<rect x="82.60" y="195.40" width="26.00" height="1.00" fill="#e0b8a9"/>
<rect x="82.60" y="196.40" width="26.00" height="1.00" fill="#efc4b4"/>
<rect x="82.60" y="197.40" width="26.00" height="1.00" fill="#bdd0df"/>
<rect x="82.60" y="199.40" width="26.00" height="1.00" fill="#c0d5e9"/>
<rect x="82.60" y="200.40" width="26.00" height="1.00" fill="#bad0e3"/>
<rect x="82.60" y="203.40" width="26.00" height="1.00" fill="#d3d7dd"/>
<rect x="82.60" y="204.40" width="26.00" height="1.00" fill="#d4d8dd"/>
<rect x="30.5" y="35.5" width="79" height="170" fill="none" stroke="#2b2b2b" stroke-width="1"/>
<defs><linearGradient id="cb" x1="0" y1="0" x2="0" y2="1"><stop offset="0" stop-color="#b2182b"/><stop offset="0.2" stop-color="#e06c4f"/><stop offset="0.38" stop-color="#f7c4a8"/><stop offset="0.52" stop-color="#f4f4f4"/><stop offset="0.7" stop-color="#b6d4e8"/><stop offset="0.85" stop-color="#5d9ccc"/><stop offset="1" stop-color="#2166ac"/></linearGradient></defs>
<rect x="24.8" y="35.6" width="3.0" height="31.3" rx="1" fill="url(#cb)"/>
<text x="23.7" y="37.8" font-size="6.3" text-anchor="end" fill="#141414">2</text>
<text x="23.7" y="45.7" font-size="6.3" text-anchor="end" fill="#141414">1</text>
<text x="23.7" y="54.0" font-size="6.3" text-anchor="end" fill="#141414">0</text>
<text x="23.7" y="61.7" font-size="6.3" text-anchor="end" fill="#141414">-1</text>
<text x="69.8" y="28.8" font-size="6.2" text-anchor="middle" textLength="28.8" lengthAdjust="spacingAndGlyphs" fill="#141414">rhIGFBP7</text>
<line x1="32.3" y1="31.3" x2="107.4" y2="31.3" stroke="#222" stroke-width="0.9"/>
<text x="129.0" y="28.8" font-size="6.5" text-anchor="middle" textLength="19.2" lengthAdjust="spacingAndGlyphs" fill="#141414">Top 15</text>
<line x1="116.1" y1="31.5" x2="141.5" y2="31.5" stroke="#222" stroke-width="0.9"/>
<path d="M111.6,35.5 Q113.6,36 113.6,40 L113.6,43 Q113.8,45 115.2,45.2 Q113.8,45.4 113.6,47.5 L113.6,50.5 Q113.6,54.5 111.6,55" fill="none" stroke="#555" stroke-width="0.6"/>
<text x="116.2" y="39.5" font-size="6.5" fill="#141414">CTSG</text>
<text x="116.2" y="46.97" font-size="6.5" fill="#141414">HDAC9</text>
<text x="116.2" y="54.44" font-size="6.5" fill="#141414">MPO</text>
<text x="116.2" y="61.91" font-size="6.5" fill="#141414">C9orf139</text>
<text x="116.2" y="69.38" font-size="6.5" fill="#141414">NREP</text>
<text x="116.2" y="76.85" font-size="6.5" fill="#141414">FLT3</text>
<text x="116.2" y="84.32" font-size="6.5" fill="#141414">ZNF33B</text>
<text x="116.2" y="91.78999999999999" font-size="6.5" fill="#4b66a4" style="stroke:#4b66a4;stroke-width:0.12px">GFI1*</text>
<text x="116.2" y="99.25999999999999" font-size="6.5" fill="#141414">KIAA0125</text>
<text x="116.2" y="106.73" font-size="6.5" fill="#141414">CARF</text>
<text x="116.2" y="114.2" font-size="6.5" fill="#141414">CECR1</text>
<text x="116.2" y="121.67" font-size="6.5" fill="#141414">STARD9</text>
<text x="116.2" y="129.14" font-size="6.5" fill="#141414">MNDA</text>
<text x="116.2" y="136.61" font-size="6.5" fill="#141414">IGHM</text>
<text x="116.2" y="144.07999999999998" font-size="6.5" fill="#141414">TTC24</text>
<text x="42.9" y="212.0" font-size="6.4" text-anchor="middle" textLength="20.2" lengthAdjust="spacingAndGlyphs" fill="#141414">AML33</text>
<text x="70.6" y="212.0" font-size="6.4" text-anchor="middle" textLength="20.2" lengthAdjust="spacingAndGlyphs" fill="#141414">AML15</text>
<text x="96.4" y="212.0" font-size="6.4" text-anchor="middle" textLength="19.9" lengthAdjust="spacingAndGlyphs" fill="#141414">AML17</text>
<text x="172.3" y="29.5" font-size="6.3" font-weight="bold" textLength="110.3" lengthAdjust="spacingAndGlyphs" fill="#141414">Pathways upregulated by rhIGFBP7</text>
<text x="172.3" y="36.6" font-size="6.3" font-weight="bold" fill="#141414">Term</text>
<text x="379.7" y="36.6" font-size="6.3" text-anchor="middle" font-weight="bold" textLength="19.8" lengthAdjust="spacingAndGlyphs" fill="#141414">Genes</text>
<text x="404.4" y="36.6" font-size="6.3" text-anchor="middle" font-weight="bold" textLength="25.0" lengthAdjust="spacingAndGlyphs" fill="#141414">P-Value</text>
<text x="418.3" y="36.6" font-size="6.3" font-weight="bold" textLength="31.0" lengthAdjust="spacingAndGlyphs" fill="#141414">Benjamini</text>
<text transform="translate(172.3,44.6) scale(1,1.0)" x="0" y="0" font-size="6.2" fill="#141414" class="tb">Chemokine activity</text>
<text transform="translate(380.0,44.6) scale(1,1.0)" x="0" y="0" font-size="6.2" text-anchor="middle" fill="#141414" class="tb">5</text>
<text transform="translate(404.2,44.6) scale(1,1.0)" x="0" y="0" font-size="6.2" text-anchor="middle" fill="#141414" class="tb">1.0E-2</text>
<text transform="translate(434.0,44.6) scale(1,1.0)" x="0" y="0" font-size="6.2" text-anchor="middle" fill="#141414" class="tb">4.1E-1</text>
<rect x="350.30" y="39.50" width="8.70" height="1.00" fill="#bcc3dc"/>
<rect x="350.30" y="42.55" width="8.70" height="1.50" fill="#34508f"/>
<text transform="translate(172.3,51.550000000000004) scale(1,1.0)" x="0" y="0" font-size="6.2" fill="#141414" class="tb">Chemokine signaling pathway</text>
<text transform="translate(380.0,51.550000000000004) scale(1,1.0)" x="0" y="0" font-size="6.2" text-anchor="middle" fill="#141414" class="tb">9</text>
<text transform="translate(404.2,51.550000000000004) scale(1,1.0)" x="0" y="0" font-size="6.2" text-anchor="middle" fill="#141414" class="tb">7.6E-2</text>
<text transform="translate(434.0,51.550000000000004) scale(1,1.0)" x="0" y="0" font-size="6.2" text-anchor="middle" fill="#141414" class="tb">3.8E-1</text>
<rect x="350.30" y="46.50" width="11.60" height="1.00" fill="#bcc3dc"/>
<rect x="350.30" y="49.65" width="11.60" height="1.50" fill="#34508f"/>
<text transform="translate(172.3,58.50000000000001) scale(1,1.0)" x="0" y="0" font-size="6.2" fill="#141414" class="tb">Serine-type endopeptidase activity</text>
<text transform="translate(380.0,58.50000000000001) scale(1,1.0)" x="0" y="0" font-size="6.2" text-anchor="middle" fill="#141414" class="tb">9</text>
<text transform="translate(404.2,58.50000000000001) scale(1,1.0)" x="0" y="0" font-size="6.2" text-anchor="middle" fill="#141414" class="tb">7.5E-2</text>
<text transform="translate(434.0,58.50000000000001) scale(1,1.0)" x="0" y="0" font-size="6.2" text-anchor="middle" fill="#141414" class="tb">8.7E-1</text>
<rect x="350.30" y="53.60" width="11.60" height="1.00" fill="#bcc3dc"/>
<rect x="350.30" y="56.65" width="11.60" height="1.50" fill="#34508f"/>
<text transform="translate(172.3,65.45) scale(1,1.0)" x="0" y="0" font-size="6.2" fill="#141414" class="tb">Response to mechanical stimulus</text>
<text transform="translate(380.0,65.45) scale(1,1.0)" x="0" y="0" font-size="6.2" text-anchor="middle" fill="#141414" class="tb">9</text>
<text transform="translate(404.2,65.45) scale(1,1.0)" x="0" y="0" font-size="6.2" text-anchor="middle" fill="#141414" class="tb">7.2E-6</text>
<text transform="translate(434.0,65.45) scale(1,1.0)" x="0" y="0" font-size="6.2" text-anchor="middle" fill="#141414" class="tb">1.1E-3</text>
<rect x="350.30" y="60.80" width="11.60" height="1.00" fill="#bcc3dc"/>
<rect x="350.30" y="63.65" width="11.60" height="1.50" fill="#34508f"/>
<text transform="translate(172.3,72.4) scale(1,1.0)" x="0" y="0" font-size="6.2" fill="#141414" class="tb">Response to cAMP</text>
<text transform="translate(380.0,72.4) scale(1,1.0)" x="0" y="0" font-size="6.2" text-anchor="middle" fill="#141414" class="tb">7</text>
<text transform="translate(404.2,72.4) scale(1,1.0)" x="0" y="0" font-size="6.2" text-anchor="middle" fill="#141414" class="tb">1.3E-4</text>
<text transform="translate(434.0,72.4) scale(1,1.0)" x="0" y="0" font-size="6.2" text-anchor="middle" fill="#141414" class="tb">1.1E-2</text>
<rect x="350.30" y="67.90" width="10.30" height="1.00" fill="#bcc3dc"/>
<rect x="350.30" y="70.75" width="10.30" height="1.50" fill="#34508f"/>
<text transform="translate(172.3,79.35000000000001) scale(1,1.0)" x="0" y="0" font-size="6.2" fill="#141414" class="tb">Cellular response to hormone stimulus</text>
<text transform="translate(380.0,79.35000000000001) scale(1,1.0)" x="0" y="0" font-size="6.2" text-anchor="middle" fill="#141414" class="tb">5</text>
<text transform="translate(404.2,79.35000000000001) scale(1,1.0)" x="0" y="0" font-size="6.2" text-anchor="middle" fill="#141414" class="tb">7.4E-3</text>
<text transform="translate(434.0,79.35000000000001) scale(1,1.0)" x="0" y="0" font-size="6.2" text-anchor="middle" fill="#141414" class="tb">1.9E-1</text>
<rect x="350.30" y="75.00" width="8.70" height="1.00" fill="#bcc3dc"/>
<rect x="350.30" y="77.85" width="8.70" height="1.50" fill="#34508f"/>
<text transform="translate(172.3,86.30000000000001) scale(1,1.0)" x="0" y="0" font-size="6.2" fill="#141414" class="tb">Cellular response to calcium ion</text>
<text transform="translate(380.0,86.30000000000001) scale(1,1.0)" x="0" y="0" font-size="6.2" text-anchor="middle" fill="#141414" class="tb">5</text>
<text transform="translate(404.2,86.30000000000001) scale(1,1.0)" x="0" y="0" font-size="6.2" text-anchor="middle" fill="#141414" class="tb">1.1E-2</text>
<text transform="translate(434.0,86.30000000000001) scale(1,1.0)" x="0" y="0" font-size="6.2" text-anchor="middle" fill="#141414" class="tb">2.5E-1</text>
<rect x="350.30" y="81.90" width="8.70" height="1.00" fill="#bcc3dc"/>
<rect x="350.30" y="84.85" width="8.70" height="1.50" fill="#34508f"/>
<text transform="translate(172.3,93.25000000000001) scale(1,1.0)" x="0" y="0" font-size="6.2" fill="#141414" class="tb">Response to radiation</text>
<text transform="translate(380.0,93.25000000000001) scale(1,1.0)" x="0" y="0" font-size="6.2" text-anchor="middle" fill="#141414" class="tb">4</text>
<text transform="translate(404.2,93.25000000000001) scale(1,1.0)" x="0" y="0" font-size="6.2" text-anchor="middle" fill="#141414" class="tb">1.2E-2</text>
<text transform="translate(434.0,93.25000000000001) scale(1,1.0)" x="0" y="0" font-size="6.2" text-anchor="middle" fill="#141414" class="tb">2.5E-1</text>
<rect x="350.30" y="88.90" width="7.50" height="1.00" fill="#bcc3dc"/>
<rect x="350.30" y="91.95" width="7.10" height="1.50" fill="#34508f"/>
<text transform="translate(172.3,100.20000000000002) scale(1,1.0)" x="0" y="0" font-size="6.2" fill="#141414" class="tb">Regulation of cell death</text>
<text transform="translate(380.0,100.20000000000002) scale(1,1.0)" x="0" y="0" font-size="6.2" text-anchor="middle" fill="#141414" class="tb">3</text>
<text transform="translate(404.2,100.20000000000002) scale(1,1.0)" x="0" y="0" font-size="6.2" text-anchor="middle" fill="#141414" class="tb">1.5E-3</text>
<text transform="translate(434.0,100.20000000000002) scale(1,1.0)" x="0" y="0" font-size="6.2" text-anchor="middle" fill="#141414" class="tb">2.8E-1</text>
<rect x="350.30" y="95.90" width="5.60" height="1.00" fill="#bcc3dc"/>
<rect x="350.30" y="99.15" width="5.60" height="1.50" fill="#34508f"/>
<text transform="translate(172.3,107.15000000000002) scale(1,1.0)" x="0" y="0" font-size="6.2" fill="#141414" class="tb">Positive regulation of cell differentiation</text>
<text transform="translate(380.0,107.15000000000002) scale(1,1.0)" x="0" y="0" font-size="6.2" text-anchor="middle" fill="#141414" class="tb">4</text>
<text transform="translate(404.2,107.15000000000002) scale(1,1.0)" x="0" y="0" font-size="6.2" text-anchor="middle" fill="#141414" class="tb">2.5E-2</text>
<text transform="translate(434.0,107.15000000000002) scale(1,1.0)" x="0" y="0" font-size="6.2" text-anchor="middle" fill="#141414" class="tb">4.1E-1</text>
<rect x="350.30" y="102.90" width="6.50" height="1.00" fill="#bcc3dc"/>
<rect x="350.30" y="105.95" width="6.50" height="1.50" fill="#34508f"/>
<text transform="translate(172.3,114.10000000000002) scale(1,1.0)" x="0" y="0" font-size="6.2" fill="#141414" class="tb">Transcription factor binding</text>
<text transform="translate(380.0,114.10000000000002) scale(1,1.0)" x="0" y="0" font-size="6.2" text-anchor="middle" fill="#141414" class="tb">10</text>
<text transform="translate(404.2,114.10000000000002) scale(1,1.0)" x="0" y="0" font-size="6.2" text-anchor="middle" fill="#141414" class="tb">5.8E-2</text>
<text transform="translate(434.0,114.10000000000002) scale(1,1.0)" x="0" y="0" font-size="6.2" text-anchor="middle" fill="#141414" class="tb">7.7E-1</text>
<rect x="350.30" y="110.00" width="13.40" height="1.00" fill="#bcc3dc"/>
<rect x="350.30" y="113.25" width="13.40" height="1.50" fill="#34508f"/>
<text transform="translate(172.3,121.05000000000003) scale(1,1.0)" x="0" y="0" font-size="6.2" fill="#141414" class="tb">Regulation of cell cyclus</text>
<text transform="translate(380.0,121.05000000000003) scale(1,1.0)" x="0" y="0" font-size="6.2" text-anchor="middle" fill="#141414" class="tb">6</text>
<text transform="translate(404.2,121.05000000000003) scale(1,1.0)" x="0" y="0" font-size="6.2" text-anchor="middle" fill="#141414" class="tb">6.3E-2</text>
<text transform="translate(434.0,121.05000000000003) scale(1,1.0)" x="0" y="0" font-size="6.2" text-anchor="middle" fill="#141414" class="tb">6.6E-1</text>
<rect x="350.30" y="117.00" width="9.50" height="1.00" fill="#bcc3dc"/>
<rect x="350.30" y="120.25" width="9.50" height="1.50" fill="#34508f"/>
<text transform="translate(172.3,128.00000000000003) scale(1,1.0)" x="0" y="0" font-size="6.2" fill="#141414" class="tb">RNA pol-II core promoter proximal region-specific DNA binding</text>
<text transform="translate(380.0,128.00000000000003) scale(1,1.0)" x="0" y="0" font-size="6.2" text-anchor="middle" fill="#141414" class="tb">10</text>
<text transform="translate(404.2,128.00000000000003) scale(1,1.0)" x="0" y="0" font-size="6.2" text-anchor="middle" fill="#141414" class="tb">1.6E-1</text>
<text transform="translate(434.0,128.00000000000003) scale(1,1.0)" x="0" y="0" font-size="6.2" text-anchor="middle" fill="#141414" class="tb">1.0E0</text>
<rect x="350.30" y="124.00" width="13.40" height="1.00" fill="#bcc3dc"/>
<rect x="350.30" y="127.25" width="13.40" height="1.50" fill="#34508f"/>
<text transform="translate(172.3,134.95000000000002) scale(1,1.0)" x="0" y="0" font-size="6.2" fill="#141414" class="tb">RNA pol-II transcription factor activity,</text>
<text transform="translate(172.3,141.9) scale(1,1.0)" x="0" y="0" font-size="6.2" fill="#141414" class="tb">sequence-specific DNA binding</text>
<text transform="translate(380.0,134.95000000000002) scale(1,1.0)" x="0" y="0" font-size="6.2" text-anchor="middle" fill="#141414" class="tb">6</text>
<text transform="translate(404.2,134.95000000000002) scale(1,1.0)" x="0" y="0" font-size="6.2" text-anchor="middle" fill="#141414" class="tb">1.7E-1</text>
<text transform="translate(434.0,134.95000000000002) scale(1,1.0)" x="0" y="0" font-size="6.2" text-anchor="middle" fill="#141414" class="tb">1.0E0</text>
<rect x="350.30" y="131.20" width="9.50" height="1.00" fill="#bcc3dc"/>
<rect x="350.30" y="134.25" width="9.50" height="1.50" fill="#34508f"/>
<text transform="translate(172.3,148.85000000000002) scale(1,1.0)" x="0" y="0" font-size="6.2" fill="#141414" class="tb">Transcription coactivator-activity</text>
<text transform="translate(380.0,148.85000000000002) scale(1,1.0)" x="0" y="0" font-size="6.2" text-anchor="middle" fill="#141414" class="tb">5</text>
<text transform="translate(404.2,148.85000000000002) scale(1,1.0)" x="0" y="0" font-size="6.2" text-anchor="middle" fill="#141414" class="tb">6.2E-1</text>
<text transform="translate(434.0,148.85000000000002) scale(1,1.0)" x="0" y="0" font-size="6.2" text-anchor="middle" fill="#141414" class="tb">1.0E0</text>
<rect x="350.30" y="145.70" width="8.70" height="1.00" fill="#bcc3dc"/>
<rect x="350.30" y="148.65" width="8.70" height="1.50" fill="#34508f"/>
<text x="172.3" y="163.1" font-size="6.3" font-weight="bold" textLength="118.9" lengthAdjust="spacingAndGlyphs" fill="#141414">Pathways downregulated by rhIGFBP7</text>
<text x="172.3" y="170.0" font-size="6.3" font-weight="bold" fill="#141414">Term</text>
<text x="379.7" y="170.0" font-size="6.3" text-anchor="middle" font-weight="bold" textLength="19.8" lengthAdjust="spacingAndGlyphs" fill="#141414">Genes</text>
<text x="404.4" y="170.0" font-size="6.3" text-anchor="middle" font-weight="bold" textLength="25.0" lengthAdjust="spacingAndGlyphs" fill="#141414">P-Value</text>
<text x="418.3" y="170.0" font-size="6.3" font-weight="bold" textLength="31.0" lengthAdjust="spacingAndGlyphs" fill="#141414">Benjamini</text>
<text transform="translate(172.3,178.4) scale(1,1.0)" x="0" y="0" font-size="6.2" fill="#141414" class="tb">Nucleic acid binding</text>
<text transform="translate(380.0,178.4) scale(1,1.0)" x="0" y="0" font-size="6.2" text-anchor="middle" fill="#141414" class="tb">17</text>
<text transform="translate(404.2,178.4) scale(1,1.0)" x="0" y="0" font-size="6.2" text-anchor="middle" fill="#141414" class="tb">1.1E-2</text>
<text transform="translate(434.0,178.4) scale(1,1.0)" x="0" y="0" font-size="6.2" text-anchor="middle" fill="#141414" class="tb">2.0E-2</text>
<rect x="350.30" y="173.00" width="15.90" height="1.00" fill="#bcc3dc"/>
<rect x="350.30" y="176.15" width="15.90" height="1.50" fill="#34508f"/>
<text transform="translate(172.3,185.28) scale(1,1.0)" x="0" y="0" font-size="6.2" fill="#141414" class="tb">Regulation of transcription, DNA-templated</text>
<text transform="translate(380.0,185.28) scale(1,1.0)" x="0" y="0" font-size="6.2" text-anchor="middle" fill="#141414" class="tb">20</text>
<text transform="translate(404.2,185.28) scale(1,1.0)" x="0" y="0" font-size="6.2" text-anchor="middle" fill="#141414" class="tb">2.0E-1</text>
<text transform="translate(434.0,185.28) scale(1,1.0)" x="0" y="0" font-size="6.2" text-anchor="middle" fill="#141414" class="tb">2.0E-1</text>
<rect x="350.30" y="179.70" width="19.70" height="1.00" fill="#bcc3dc"/>
<rect x="350.30" y="183.05" width="19.70" height="1.50" fill="#34508f"/>
<text transform="translate(172.3,192.16) scale(1,1.0)" x="0" y="0" font-size="6.2" fill="#141414" class="tb">Metal ion binding</text>
<text transform="translate(380.0,192.16) scale(1,1.0)" x="0" y="0" font-size="6.2" text-anchor="middle" fill="#141414" class="tb">23</text>
<text transform="translate(404.2,192.16) scale(1,1.0)" x="0" y="0" font-size="6.2" text-anchor="middle" fill="#141414" class="tb">2.2E-3</text>
<text transform="translate(434.0,192.16) scale(1,1.0)" x="0" y="0" font-size="6.2" text-anchor="middle" fill="#141414" class="tb">1.9E-1</text>
<rect x="350.30" y="186.80" width="19.70" height="1.00" fill="#bcc3dc"/>
<rect x="350.30" y="190.05" width="19.70" height="1.50" fill="#34508f"/>
<text transform="translate(172.3,199.04) scale(1,1.0)" x="0" y="0" font-size="6.2" fill="#141414" class="tb">Transcription, DNA-templated</text>
<text transform="translate(380.0,199.04) scale(1,1.0)" x="0" y="0" font-size="6.2" text-anchor="middle" fill="#141414" class="tb">20</text>
<text transform="translate(404.2,199.04) scale(1,1.0)" x="0" y="0" font-size="6.2" text-anchor="middle" fill="#141414" class="tb">7.9E-3</text>
<text transform="translate(434.0,199.04) scale(1,1.0)" x="0" y="0" font-size="6.2" text-anchor="middle" fill="#141414" class="tb">1.0E0</text>
<rect x="350.30" y="193.70" width="21.20" height="1.00" fill="#bcc3dc"/>
<rect x="350.30" y="196.95" width="21.20" height="1.50" fill="#34508f"/>
<text transform="translate(172.3,205.92) scale(1,1.0)" x="0" y="0" font-size="6.2" fill="#141414" class="tb">DNA binding</text>
<text transform="translate(380.0,205.92) scale(1,1.0)" x="0" y="0" font-size="6.2" text-anchor="middle" fill="#141414" class="tb">18</text>
<text transform="translate(404.2,205.92) scale(1,1.0)" x="0" y="0" font-size="6.2" text-anchor="middle" fill="#141414" class="tb">1.2E-2</text>
<text transform="translate(434.0,205.92) scale(1,1.0)" x="0" y="0" font-size="6.2" text-anchor="middle" fill="#141414" class="tb">6.7E-1</text>
<rect x="350.30" y="200.50" width="17.40" height="1.00" fill="#bcc3dc"/>
<rect x="350.30" y="203.85" width="17.40" height="1.50" fill="#34508f"/>
<text transform="translate(172.3,212.79999999999998) scale(1,1.0)" x="0" y="0" font-size="6.2" fill="#141414" class="tb">Transcription factor activity, sequence-specific DNA binding</text>
<text transform="translate(380.0,212.79999999999998) scale(1,1.0)" x="0" y="0" font-size="6.2" text-anchor="middle" fill="#141414" class="tb">10</text>
<text transform="translate(404.2,212.79999999999998) scale(1,1.0)" x="0" y="0" font-size="6.2" text-anchor="middle" fill="#141414" class="tb">9.1E-2</text>
<text transform="translate(434.0,212.79999999999998) scale(1,1.0)" x="0" y="0" font-size="6.2" text-anchor="middle" fill="#141414" class="tb">1.0E0</text>
<rect x="350.30" y="207.50" width="13.50" height="1.00" fill="#bcc3dc"/>
<rect x="350.30" y="210.75" width="13.50" height="1.50" fill="#34508f"/>
<line x1="56.4" y1="265.4" x2="56.4" y2="333.75" stroke="#000" stroke-width="1.1"/>
<line x1="53.4" y1="274.6" x2="56.4" y2="274.6" stroke="#000" stroke-width="1.1"/>
<text x="50.0" y="276.55" font-size="6.0" text-anchor="end" fill="#141414">1.0</text>
<line x1="53.4" y1="286.4" x2="56.4" y2="286.4" stroke="#000" stroke-width="1.1"/>
<text x="50.0" y="288.34999999999997" font-size="6.0" text-anchor="end" fill="#141414">0.8</text>
<line x1="53.4" y1="298.2" x2="56.4" y2="298.2" stroke="#000" stroke-width="1.1"/>
<text x="50.0" y="300.15" font-size="6.0" text-anchor="end" fill="#141414">0.6</text>
<line x1="53.4" y1="310.0" x2="56.4" y2="310.0" stroke="#000" stroke-width="1.1"/>
<text x="50.0" y="311.95" font-size="6.0" text-anchor="end" fill="#141414">0.4</text>
<line x1="53.4" y1="321.8" x2="56.4" y2="321.8" stroke="#000" stroke-width="1.1"/>
<text x="50.0" y="323.75" font-size="6.0" text-anchor="end" fill="#141414">0.2</text>
<line x1="53.4" y1="333.3" x2="56.4" y2="333.3" stroke="#000" stroke-width="1.1"/>
<text x="50.0" y="335.25" font-size="6.0" text-anchor="end" fill="#141414">0.0</text>
<line x1="56.0" y1="333.3" x2="109.0" y2="333.3" stroke="#000" stroke-width="0.9"/>
<line x1="69.8" y1="333.3" x2="69.8" y2="335.8" stroke="#000" stroke-width="0.9"/>
<line x1="97.8" y1="333.3" x2="97.8" y2="335.8" stroke="#000" stroke-width="0.9"/>
<rect x="62.30" y="275.10" width="14.70" height="58.20" fill="#51256a" stroke="#3c1453" stroke-width="0.6"/>
<rect x="90.50" y="303.20" width="14.40" height="30.10" fill="#6bab3d" stroke="#5a9830" stroke-width="0.6"/>
<line x1="97.7" y1="297.3" x2="97.7" y2="303.5" stroke="#000" stroke-width="1.0"/>
<line x1="94.0" y1="297.3" x2="101.4" y2="297.3" stroke="#000" stroke-width="1.0"/>
<rect x="63.40" y="272.80" width="2.90" height="2.90" fill="#000"/>
<rect x="68.40" y="272.80" width="2.90" height="2.90" fill="#000"/>
<path d="M75.2,272.4 L76.9,275.7 L73.5,275.7 Z" fill="#000" stroke="none" stroke-width="0.8"/>
<rect x="96.10" y="291.90" width="2.90" height="2.90" fill="#000"/>
<path d="M97.6,304.2 L99.2,307.2 L96.0,307.2 Z" fill="#000" stroke="none" stroke-width="0.8"/>
<circle cx="97.6" cy="309.6" r="1.5" fill="#000"/>
<path d="M69.5,266.3 L69.5,264.8 L98.2,264.8 L98.2,266.3" fill="none" stroke="#000" stroke-width="1.0"/>
<text x="65.9" y="260.70000000000005" font-size="5.0" textLength="1.8" lengthAdjust="spacingAndGlyphs" fill="#141414">*</text>
<text x="69.8" y="261.6" font-size="6.5" textLength="32.0" lengthAdjust="spacingAndGlyphs" fill="#141414"><tspan font-style="italic">p</tspan> = 0.0275</text>
<circle cx="112.0" cy="292.3" r="1.45" fill="#000"/>
<text x="116.6" y="294.2" font-size="5.4" textLength="16.8" lengthAdjust="spacingAndGlyphs" fill="#141414">AML17</text>
<rect x="110.70" y="298.10" width="2.70" height="2.70" fill="#000"/>
<text x="116.6" y="301.2" font-size="5.4" textLength="16.8" lengthAdjust="spacingAndGlyphs" fill="#141414">AML19</text>
<path d="M112.0,305.3 L113.6,308.2 L110.4,308.2 Z" fill="#000" stroke="none" stroke-width="0.8"/>
<text x="116.6" y="308.3" font-size="5.4" textLength="16.8" lengthAdjust="spacingAndGlyphs" fill="#141414">AML17</text>
<text x="69.3" y="344.6" font-size="6.2" text-anchor="middle" textLength="19.9" lengthAdjust="spacingAndGlyphs" fill="#141414">Control</text>
<text x="97.0" y="344.6" font-size="6.2" text-anchor="middle" textLength="28.4" lengthAdjust="spacingAndGlyphs" fill="#141414">rhIGFBP7</text>
<text transform="translate(25.4,301.6) rotate(-90)" x="0" y="0" font-size="8.3" text-anchor="middle" textLength="33.8" lengthAdjust="spacingAndGlyphs"><tspan font-style="italic">GFI1</tspan> expression</text>
<text transform="translate(35.3,299.2) rotate(-90)" x="0" y="0" font-size="8.2" text-anchor="middle" textLength="44.0" lengthAdjust="spacingAndGlyphs">(relative to <tspan font-style="italic">GUS</tspan>)</text>
<text x="160.2" y="254.2" font-size="5.4" textLength="17.3" lengthAdjust="spacingAndGlyphs" fill="#141414">Viability</text>
<text x="160.2" y="260.6" font-size="5.4" textLength="26.5" lengthAdjust="spacingAndGlyphs" fill="#141414">(% ± SEM)</text>
<text x="201.0" y="254.2" font-size="5.6" text-anchor="middle" textLength="10.4" lengthAdjust="spacingAndGlyphs" fill="#141414">81.8</text>
<text x="201.0" y="260.6" font-size="5.6" text-anchor="middle" textLength="10.6" lengthAdjust="spacingAndGlyphs" fill="#141414">±0.7</text>
<text x="216.8" y="254.2" font-size="5.6" text-anchor="middle" textLength="10.4" lengthAdjust="spacingAndGlyphs" fill="#141414">83.1</text>
<text x="216.8" y="260.6" font-size="5.6" text-anchor="middle" textLength="10.6" lengthAdjust="spacingAndGlyphs" fill="#141414">±3.9</text>
<text x="232.8" y="254.2" font-size="5.6" text-anchor="middle" textLength="10.4" lengthAdjust="spacingAndGlyphs" fill="#141414">85.9</text>
<text x="232.8" y="260.6" font-size="5.6" text-anchor="middle" textLength="10.6" lengthAdjust="spacingAndGlyphs" fill="#141414">±3.6</text>
<text x="259.4" y="254.2" font-size="5.6" text-anchor="middle" textLength="10.4" lengthAdjust="spacingAndGlyphs" fill="#141414">83.2</text>
<text x="259.4" y="260.6" font-size="5.6" text-anchor="middle" textLength="10.6" lengthAdjust="spacingAndGlyphs" fill="#141414">±4.8</text>
<text x="275.4" y="254.2" font-size="5.6" text-anchor="middle" textLength="10.4" lengthAdjust="spacingAndGlyphs" fill="#141414">81.1</text>
<text x="275.4" y="260.6" font-size="5.6" text-anchor="middle" textLength="10.6" lengthAdjust="spacingAndGlyphs" fill="#141414">±7.3</text>
<text x="291.4" y="254.2" font-size="5.6" text-anchor="middle" textLength="10.4" lengthAdjust="spacingAndGlyphs" fill="#141414">83.3</text>
<text x="291.4" y="260.6" font-size="5.6" text-anchor="middle" textLength="10.6" lengthAdjust="spacingAndGlyphs" fill="#141414">±5.4</text>
<line x1="192.6" y1="265.3" x2="192.6" y2="333.75" stroke="#000" stroke-width="1.1"/>
<line x1="189.6" y1="274.6" x2="192.6" y2="274.6" stroke="#000" stroke-width="1.1"/>
<text x="186.9" y="277.05" font-size="6.2" text-anchor="end" fill="#141414">20</text>
<line x1="189.6" y1="289.3" x2="192.6" y2="289.3" stroke="#000" stroke-width="1.1"/>
<text x="186.9" y="291.75" font-size="6.2" text-anchor="end" fill="#141414">15</text>
<line x1="189.6" y1="304.0" x2="192.6" y2="304.0" stroke="#000" stroke-width="1.1"/>
<text x="186.9" y="306.45" font-size="6.2" text-anchor="end" fill="#141414">10</text>
<line x1="189.6" y1="318.6" x2="192.6" y2="318.6" stroke="#000" stroke-width="1.1"/>
<text x="186.9" y="321.05" font-size="6.2" text-anchor="end" fill="#141414">5</text>
<line x1="189.6" y1="333.3" x2="192.6" y2="333.3" stroke="#000" stroke-width="1.1"/>
<text x="186.9" y="335.75" font-size="6.2" text-anchor="end" fill="#141414">0</text>
<line x1="192.2" y1="333.3" x2="300.3" y2="333.3" stroke="#000" stroke-width="0.9"/>
<line x1="216.7" y1="333.3" x2="216.7" y2="335.8" stroke="#000" stroke-width="0.9"/>
<line x1="275.6" y1="333.3" x2="275.6" y2="335.8" stroke="#000" stroke-width="0.9"/>
<rect x="196.60" y="332.30" width="8.40" height="1.00" fill="#4e576b" stroke="#3d4657" stroke-width="0.6"/>
<line x1="200.8" y1="330.3" x2="200.8" y2="332.5" stroke="#000" stroke-width="1.0"/>
<line x1="198.775" y1="330.3" x2="202.82500000000002" y2="330.3" stroke="#000" stroke-width="1.0"/>
<rect x="212.20" y="331.50" width="8.90" height="1.80" fill="#ad0f31" stroke="#920a27" stroke-width="0.6"/>
<line x1="216.65" y1="329.8" x2="216.65" y2="331.7" stroke="#000" stroke-width="1.0"/>
<line x1="214.51250000000002" y1="329.8" x2="218.7875" y2="329.8" stroke="#000" stroke-width="1.0"/>
<rect x="228.60" y="331.20" width="8.60" height="2.10" fill="#29498a" stroke="#1e3b73" stroke-width="0.6"/>
<line x1="232.9" y1="329.1" x2="232.9" y2="331.4" stroke="#000" stroke-width="1.0"/>
<line x1="230.83" y1="329.1" x2="234.97" y2="329.1" stroke="#000" stroke-width="1.0"/>
<rect x="255.10" y="314.90" width="8.40" height="18.40" fill="#4e576b" stroke="#3d4657" stroke-width="0.6"/>
<line x1="259.3" y1="311.0" x2="259.3" y2="315.1" stroke="#000" stroke-width="1.0"/>
<line x1="257.27500000000003" y1="311.0" x2="261.325" y2="311.0" stroke="#000" stroke-width="1.0"/>
<rect x="271.10" y="284.10" width="8.90" height="49.20" fill="#ad0f31" stroke="#920a27" stroke-width="0.6"/>
<line x1="275.55" y1="280.4" x2="275.55" y2="284.3" stroke="#000" stroke-width="1.0"/>
<line x1="273.4125" y1="280.4" x2="277.6875" y2="280.4" stroke="#000" stroke-width="1.0"/>
<rect x="287.20" y="298.00" width="8.90" height="35.30" fill="#29498a" stroke="#1e3b73" stroke-width="0.6"/>
<line x1="291.65" y1="291.6" x2="291.65" y2="298.2" stroke="#000" stroke-width="1.0"/>
<line x1="289.5125" y1="291.6" x2="293.78749999999997" y2="291.6" stroke="#000" stroke-width="1.0"/>
<path d="M259.2,275.5 L259.2,273.5 L291.2,273.5 L291.2,275.5" fill="none" stroke="#000" stroke-width="1.0"/>
<path d="M259.2,278.20000000000005 L259.2,276.6 L275.7,276.6 L275.7,278.20000000000005" fill="none" stroke="#000" stroke-width="1.0"/>
<text x="254.5" y="269.6" font-size="5.0" textLength="3.4" lengthAdjust="spacingAndGlyphs" fill="#141414">**</text>
<text x="260.0" y="270.5" font-size="6.5" textLength="31.6" lengthAdjust="spacingAndGlyphs" fill="#141414"><tspan font-style="italic">p</tspan> = 0.0060</text>
<text x="225.7" y="282.5" font-size="5.0" textLength="8.2" lengthAdjust="spacingAndGlyphs" fill="#141414">****</text>
<text x="236.6" y="283.4" font-size="6.3" textLength="30.4" lengthAdjust="spacingAndGlyphs" fill="#141414"><tspan font-style="italic">p</tspan> &lt; 0.0001</text>
<rect x="302.80" y="290.80" width="7.80" height="2.60" fill="#4e576b"/>
<text x="313.8" y="293.6" font-size="5.4" textLength="7.2" lengthAdjust="spacingAndGlyphs" fill="#141414">scr</text>
<rect x="302.80" y="298.00" width="7.80" height="2.80" fill="#ad0f31"/>
<text x="313.8" y="300.8" font-size="5.4" textLength="11.5" lengthAdjust="spacingAndGlyphs" fill="#141414">sh#1</text>
<rect x="302.80" y="305.40" width="7.80" height="2.60" fill="#29498a"/>
<text x="313.8" y="308.1" font-size="5.4" textLength="11.5" lengthAdjust="spacingAndGlyphs" fill="#141414">sh#2</text>
<text x="216.8" y="344.6" font-size="6.2" text-anchor="middle" textLength="10.4" lengthAdjust="spacingAndGlyphs" fill="#141414">Ctrl</text>
<text x="275.4" y="344.4" font-size="6.2" text-anchor="middle" textLength="15.1" lengthAdjust="spacingAndGlyphs" fill="#141414">ATRA</text>
<text transform="translate(175.0,299.5) rotate(-90)" x="0" y="0" font-size="7.9" text-anchor="middle" textLength="46.7" lengthAdjust="spacingAndGlyphs">CD11b<tspan font-size="5.2" dy="-2.8">+</tspan><tspan dy="2.8"> cells (%)</tspan></text>
<text x="352.7" y="251.0" font-size="5.4" textLength="17.3" lengthAdjust="spacingAndGlyphs" fill="#141414">Viability</text>
<text x="352.7" y="256.7" font-size="5.4" textLength="26.3" lengthAdjust="spacingAndGlyphs" fill="#141414">(% ± SEM)</text>
<text x="394.0" y="250.8" font-size="5.6" text-anchor="middle" textLength="10.6" lengthAdjust="spacingAndGlyphs" fill="#141414">82.0</text>
<text x="394.0" y="256.8" font-size="5.6" text-anchor="middle" textLength="10.6" lengthAdjust="spacingAndGlyphs" fill="#141414">±3.0</text>
<text x="406.9" y="250.8" font-size="5.6" text-anchor="middle" textLength="10.6" lengthAdjust="spacingAndGlyphs" fill="#141414">81.2</text>
<text x="406.9" y="256.8" font-size="5.6" text-anchor="middle" textLength="10.6" lengthAdjust="spacingAndGlyphs" fill="#141414">±5.7</text>
<text x="424.2" y="250.8" font-size="5.6" text-anchor="middle" textLength="10.6" lengthAdjust="spacingAndGlyphs" fill="#141414">86.1</text>
<text x="424.2" y="256.8" font-size="5.6" text-anchor="middle" textLength="10.6" lengthAdjust="spacingAndGlyphs" fill="#141414">±1.1</text>
<text x="437.3" y="250.8" font-size="5.6" text-anchor="middle" textLength="10.6" lengthAdjust="spacingAndGlyphs" fill="#141414">83.6</text>
<text x="437.3" y="256.8" font-size="5.6" text-anchor="middle" textLength="10.6" lengthAdjust="spacingAndGlyphs" fill="#141414">±1.4</text>
<text x="454.6" y="250.8" font-size="5.6" text-anchor="middle" textLength="10.6" lengthAdjust="spacingAndGlyphs" fill="#141414">80.9</text>
<text x="454.6" y="256.8" font-size="5.6" text-anchor="middle" textLength="10.6" lengthAdjust="spacingAndGlyphs" fill="#141414">±3.1</text>
<text x="467.6" y="250.8" font-size="5.6" text-anchor="middle" textLength="10.6" lengthAdjust="spacingAndGlyphs" fill="#141414">76.0</text>
<text x="467.6" y="256.8" font-size="5.6" text-anchor="middle" textLength="10.6" lengthAdjust="spacingAndGlyphs" fill="#141414">±4.9</text>
<text x="485.4" y="250.8" font-size="5.6" text-anchor="middle" textLength="10.6" lengthAdjust="spacingAndGlyphs" fill="#141414">79.9</text>
<text x="485.4" y="256.8" font-size="5.6" text-anchor="middle" textLength="10.6" lengthAdjust="spacingAndGlyphs" fill="#141414">±5.9</text>
<text x="498.2" y="250.8" font-size="5.6" text-anchor="middle" textLength="10.6" lengthAdjust="spacingAndGlyphs" fill="#141414">88.5</text>
<text x="498.2" y="256.8" font-size="5.6" text-anchor="middle" textLength="10.6" lengthAdjust="spacingAndGlyphs" fill="#141414">±0.5</text>
<line x1="385.3" y1="262.4" x2="385.3" y2="333.65" stroke="#000" stroke-width="1.1"/>
<line x1="382.3" y1="265.0" x2="385.3" y2="265.0" stroke="#000" stroke-width="1.1"/>
<text x="379.0" y="267.84999999999997" font-size="6.4" text-anchor="end" fill="#141414">20</text>
<line x1="382.3" y1="282.0" x2="385.3" y2="282.0" stroke="#000" stroke-width="1.1"/>
<text x="379.0" y="284.84999999999997" font-size="6.4" text-anchor="end" fill="#141414">15</text>
<line x1="382.3" y1="299.1" x2="385.3" y2="299.1" stroke="#000" stroke-width="1.1"/>
<text x="379.0" y="301.95" font-size="6.4" text-anchor="end" fill="#141414">10</text>
<line x1="382.3" y1="316.2" x2="385.3" y2="316.2" stroke="#000" stroke-width="1.1"/>
<text x="379.0" y="319.04999999999995" font-size="6.4" text-anchor="end" fill="#141414">5</text>
<line x1="382.3" y1="333.2" x2="385.3" y2="333.2" stroke="#000" stroke-width="1.1"/>
<text x="379.0" y="336.04999999999995" font-size="6.4" text-anchor="end" fill="#141414">0</text>
<line x1="384.9" y1="333.2" x2="502.5" y2="333.2" stroke="#000" stroke-width="0.9"/>
<line x1="400.6" y1="333.2" x2="400.6" y2="335.59999999999997" stroke="#000" stroke-width="0.9"/>
<line x1="430.8" y1="333.2" x2="430.8" y2="335.59999999999997" stroke="#000" stroke-width="0.9"/>
<line x1="461.3" y1="333.2" x2="461.3" y2="335.59999999999997" stroke="#000" stroke-width="0.9"/>
<line x1="491.8" y1="333.2" x2="491.8" y2="335.59999999999997" stroke="#000" stroke-width="0.9"/>
<rect x="391.90" y="330.00" width="5.70" height="3.20" fill="#51256a" stroke="#3c1453" stroke-width="0.6"/>
<line x1="394.75" y1="327.6" x2="394.75" y2="330.2" stroke="#000" stroke-width="1.0"/>
<line x1="393.15" y1="327.6" x2="396.35" y2="327.6" stroke="#000" stroke-width="1.0"/>
<rect x="403.40" y="328.60" width="5.70" height="4.60" fill="#e4981e" stroke="#d4870e" stroke-width="0.6"/>
<line x1="406.25" y1="325.4" x2="406.25" y2="328.8" stroke="#000" stroke-width="1.0"/>
<line x1="404.65" y1="325.4" x2="407.85" y2="325.4" stroke="#000" stroke-width="1.0"/>
<rect x="422.20" y="327.20" width="5.70" height="6.00" fill="#51256a" stroke="#3c1453" stroke-width="0.6"/>
<line x1="425.04999999999995" y1="324.0" x2="425.04999999999995" y2="327.4" stroke="#000" stroke-width="1.0"/>
<line x1="423.44999999999993" y1="324.0" x2="426.65" y2="324.0" stroke="#000" stroke-width="1.0"/>
<rect x="433.70" y="329.50" width="5.70" height="3.70" fill="#e4981e" stroke="#d4870e" stroke-width="0.6"/>
<line x1="436.54999999999995" y1="326.3" x2="436.54999999999995" y2="329.7" stroke="#000" stroke-width="1.0"/>
<line x1="434.94999999999993" y1="326.3" x2="438.15" y2="326.3" stroke="#000" stroke-width="1.0"/>
<rect x="452.90" y="300.60" width="5.70" height="32.60" fill="#51256a" stroke="#3c1453" stroke-width="0.6"/>
<line x1="455.75" y1="295.7" x2="455.75" y2="300.8" stroke="#000" stroke-width="1.0"/>
<line x1="454.15" y1="295.7" x2="457.35" y2="295.7" stroke="#000" stroke-width="1.0"/>
<rect x="464.40" y="315.60" width="5.70" height="17.60" fill="#e4981e" stroke="#d4870e" stroke-width="0.6"/>
<line x1="467.25" y1="313.9" x2="467.25" y2="315.8" stroke="#000" stroke-width="1.0"/>
<line x1="465.65" y1="313.9" x2="468.85" y2="313.9" stroke="#000" stroke-width="1.0"/>
<rect x="483.50" y="283.30" width="5.70" height="49.90" fill="#51256a" stroke="#3c1453" stroke-width="0.6"/>
<line x1="486.34999999999997" y1="280.7" x2="486.34999999999997" y2="283.5" stroke="#000" stroke-width="1.0"/>
<line x1="484.74999999999994" y1="280.7" x2="487.95" y2="280.7" stroke="#000" stroke-width="1.0"/>
<rect x="494.70" y="322.30" width="5.70" height="10.90" fill="#e4981e" stroke="#d4870e" stroke-width="0.6"/>
<line x1="497.54999999999995" y1="320.0" x2="497.54999999999995" y2="322.5" stroke="#000" stroke-width="1.0"/>
<line x1="495.94999999999993" y1="320.0" x2="499.15" y2="320.0" stroke="#000" stroke-width="1.0"/>
<path d="M455.4,287.3 L455.4,285.5 L467.4,285.5 L467.4,287.3" fill="none" stroke="#000" stroke-width="1.0"/>
<path d="M485.6,274.7 L485.6,272.9 L497.8,272.9 L497.8,274.7" fill="none" stroke="#000" stroke-width="1.0"/>
<text x="441.3" y="281.90000000000003" font-size="5.0" textLength="6.0" lengthAdjust="spacingAndGlyphs" fill="#141414">***</text>
<text x="449.9" y="282.8" font-size="6.5" textLength="30.8" lengthAdjust="spacingAndGlyphs" fill="#141414"><tspan font-style="italic">p</tspan> = 0.0004</text>
<text x="471.0" y="269.6" font-size="5.0" textLength="8.2" lengthAdjust="spacingAndGlyphs" fill="#141414">****</text>
<text x="481.5" y="270.5" font-size="6.5" textLength="30.3" lengthAdjust="spacingAndGlyphs" fill="#141414"><tspan font-style="italic">p</tspan> &lt; 0.0001</text>
<rect x="393.30" y="266.00" width="7.00" height="2.60" fill="#51256a"/>
<text x="403.3" y="268.8" font-size="5.5" textLength="17.6" lengthAdjust="spacingAndGlyphs" fill="#141414">Control</text>
<rect x="393.30" y="272.30" width="7.00" height="2.60" fill="#e4981e"/>
<text x="403.3" y="275.2" font-size="5.5" textLength="21.4" lengthAdjust="spacingAndGlyphs" fill="#141414">GFI1-OE</text>
<text x="399.6" y="343.8" font-size="6.2" text-anchor="middle" textLength="10.2" lengthAdjust="spacingAndGlyphs" fill="#141414">Ctrl</text>
<text x="430.8" y="343.8" font-size="6.2" text-anchor="middle" textLength="29.0" lengthAdjust="spacingAndGlyphs" fill="#141414">rhIGFBP7</text>
<text x="461.2" y="343.8" font-size="6.2" text-anchor="middle" textLength="15.5" lengthAdjust="spacingAndGlyphs" fill="#141414">ATRA</text>
<text x="492.3" y="343.8" font-size="6.2" text-anchor="middle" textLength="16.4" lengthAdjust="spacingAndGlyphs" fill="#141414">Combi</text>
<text transform="translate(367.0,298.0) rotate(-90)" x="0" y="0" font-size="7.9" text-anchor="middle" textLength="46.3" lengthAdjust="spacingAndGlyphs">CD11b<tspan font-size="5.2" dy="-2.8">+</tspan><tspan dy="2.8"> cells (%)</tspan></text>
<text x="21.9" y="368.9" font-size="8.2" font-weight="bold" textLength="23.1" lengthAdjust="spacingAndGlyphs" fill="#141414">AML2</text>
<text x="77.8" y="372.4" font-size="8.2" text-anchor="middle" textLength="12.7" lengthAdjust="spacingAndGlyphs" fill="#141414">Ctrl</text>
<text x="143.8" y="372.4" font-size="8.2" text-anchor="middle" textLength="37.5" lengthAdjust="spacingAndGlyphs" fill="#141414">rhIGFBP7</text>
<text x="209.7" y="372.4" font-size="8.2" text-anchor="middle" textLength="20.2" lengthAdjust="spacingAndGlyphs" fill="#141414">ATRA</text>
<text x="272.8" y="372.4" font-size="8.2" text-anchor="middle" textLength="24.0" lengthAdjust="spacingAndGlyphs" fill="#141414">Combi</text>
<path d="M56.0,420.3 L56.0,378.0 L99.4,378.0" fill="none" stroke="#cfcfcf" stroke-width="0.9"/>
<path d="M58.6,420.0 L60.0,415.6 L61.4,405.5 L62.5,388.9 L63.2,378.9 L64.2,388.9 L65.3,402.7 L66.5,411.0 L67.9,414.7 L70.2,416.6 L72.5,417.5 L75.2,416.5 L78.9,415.6 L81.7,416.5 L84.5,418.4 L87.2,419.8 L89.0,420.3 Z" fill="#b4b4b4" stroke="#a5a5a5" stroke-width="0.4"/>
<line x1="56.0" y1="420.3" x2="99.4" y2="420.3" stroke="#444" stroke-width="0.7"/>
<rect x="72.10000000000001" y="378.0" width="27.500000000000004" height="42.30000000000001" fill="none" stroke="#5d5fa2" stroke-width="1.0"/>
<text x="95.4" y="384.7" font-size="6.4" text-anchor="end" font-weight="bold" fill="#141414">13.1%</text>
<text x="53.8" y="386.85" font-size="6.6" text-anchor="end" fill="#141414">800</text>
<line x1="54.8" y1="384.1" x2="56.0" y2="384.1" stroke="#999" stroke-width="0.5"/>
<text x="53.8" y="395.95" font-size="6.6" text-anchor="end" fill="#141414">600</text>
<line x1="54.8" y1="393.2" x2="56.0" y2="393.2" stroke="#999" stroke-width="0.5"/>
<text x="53.8" y="405.15" font-size="6.6" text-anchor="end" fill="#141414">400</text>
<line x1="54.8" y1="402.4" x2="56.0" y2="402.4" stroke="#999" stroke-width="0.5"/>
<text x="53.8" y="414.35" font-size="6.6" text-anchor="end" fill="#141414">200</text>
<line x1="54.8" y1="411.6" x2="56.0" y2="411.6" stroke="#999" stroke-width="0.5"/>
<text x="53.8" y="423.55" font-size="6.6" text-anchor="end" fill="#141414">0</text>
<line x1="54.8" y1="420.8" x2="56.0" y2="420.8" stroke="#999" stroke-width="0.5"/>
<text x="59.2" y="427.5" font-size="6.7" fill="#141414">10<tspan font-size="4.02" dy="-2.4">2</tspan></text>
<text x="70.0" y="427.5" font-size="6.7" fill="#141414">10<tspan font-size="4.02" dy="-2.4">3</tspan></text>
<text x="80.80000000000001" y="427.5" font-size="6.7" fill="#141414">10<tspan font-size="4.02" dy="-2.4">4</tspan></text>
<text x="91.60000000000001" y="427.5" font-size="6.7" fill="#141414">10<tspan font-size="4.02" dy="-2.4">5</tspan></text>
<path d="M122.6,420.3 L122.6,378.0 L164.8,378.0" fill="none" stroke="#cfcfcf" stroke-width="0.9"/>
<path d="M125.5,420.0 L126.9,413.8 L128.3,398.1 L129.2,384.2 L130.0,379.6 L130.9,388.9 L132.0,405.5 L133.4,413.8 L135.7,417.3 L138.5,418.2 L143.1,417.7 L147.7,418.4 L151.4,419.8 L153.0,420.3 Z" fill="#b4b4b4" stroke="#a5a5a5" stroke-width="0.4"/>
<line x1="122.6" y1="420.3" x2="164.8" y2="420.3" stroke="#444" stroke-width="0.7"/>
<rect x="137.5" y="378.0" width="27.500000000000018" height="42.30000000000001" fill="none" stroke="#5d5fa2" stroke-width="1.0"/>
<text x="162.0" y="384.5" font-size="6.4" text-anchor="end" font-weight="bold" fill="#141414">17.1%</text>
<text x="120.2" y="387.15" font-size="6.6" text-anchor="end" fill="#141414">1500</text>
<line x1="121.39999999999999" y1="384.4" x2="122.6" y2="384.4" stroke="#999" stroke-width="0.5"/>
<text x="120.2" y="399.05" font-size="6.6" text-anchor="end" fill="#141414">1000</text>
<line x1="121.39999999999999" y1="396.3" x2="122.6" y2="396.3" stroke="#999" stroke-width="0.5"/>
<text x="120.2" y="410.95" font-size="6.6" text-anchor="end" fill="#141414">500</text>
<line x1="121.39999999999999" y1="408.2" x2="122.6" y2="408.2" stroke="#999" stroke-width="0.5"/>
<text x="120.2" y="423.05" font-size="6.6" text-anchor="end" fill="#141414">0</text>
<line x1="121.39999999999999" y1="420.3" x2="122.6" y2="420.3" stroke="#999" stroke-width="0.5"/>
<text x="125.8" y="427.5" font-size="6.7" fill="#141414">10<tspan font-size="4.02" dy="-2.4">2</tspan></text>
<text x="136.6" y="427.5" font-size="6.7" fill="#141414">10<tspan font-size="4.02" dy="-2.4">3</tspan></text>
<text x="147.4" y="427.5" font-size="6.7" fill="#141414">10<tspan font-size="4.02" dy="-2.4">4</tspan></text>
<text x="158.2" y="427.5" font-size="6.7" fill="#141414">10<tspan font-size="4.02" dy="-2.4">5</tspan></text>
<path d="M188.2,420.3 L188.2,378.0 L231.0,378.0" fill="none" stroke="#cfcfcf" stroke-width="0.9"/>
<path d="M191.0,420.0 L192.4,413.8 L193.8,398.1 L195.0,382.4 L195.6,378.2 L196.5,386.1 L197.7,402.7 L198.9,411.9 L200.7,416.1 L203.5,417.5 L207.2,416.6 L210.9,415.6 L213.6,416.6 L216.4,418.4 L219.2,420.3 Z" fill="#b4b4b4" stroke="#a5a5a5" stroke-width="0.4"/>
<line x1="188.2" y1="420.3" x2="231.0" y2="420.3" stroke="#444" stroke-width="0.7"/>
<rect x="203.8" y="378.0" width="27.399999999999995" height="42.30000000000001" fill="none" stroke="#5d5fa2" stroke-width="1.0"/>
<text x="228.4" y="384.5" font-size="6.4" text-anchor="end" font-weight="bold" fill="#141414">15.2%</text>
<text x="185.8" y="384.85" font-size="6.6" text-anchor="end" fill="#141414">1250</text>
<line x1="187.0" y1="382.1" x2="188.2" y2="382.1" stroke="#999" stroke-width="0.5"/>
<text x="185.8" y="392.55" font-size="6.6" text-anchor="end" fill="#141414">1000</text>
<line x1="187.0" y1="389.8" x2="188.2" y2="389.8" stroke="#999" stroke-width="0.5"/>
<text x="185.8" y="400.25" font-size="6.6" text-anchor="end" fill="#141414">750</text>
<line x1="187.0" y1="397.5" x2="188.2" y2="397.5" stroke="#999" stroke-width="0.5"/>
<text x="185.8" y="408.05" font-size="6.6" text-anchor="end" fill="#141414">500</text>
<line x1="187.0" y1="405.3" x2="188.2" y2="405.3" stroke="#999" stroke-width="0.5"/>
<text x="185.8" y="415.65" font-size="6.6" text-anchor="end" fill="#141414">250</text>
<line x1="187.0" y1="412.9" x2="188.2" y2="412.9" stroke="#999" stroke-width="0.5"/>
<text x="185.8" y="423.05" font-size="6.6" text-anchor="end" fill="#141414">0</text>
<line x1="187.0" y1="420.3" x2="188.2" y2="420.3" stroke="#999" stroke-width="0.5"/>
<text x="191.39999999999998" y="427.5" font-size="6.7" fill="#141414">10<tspan font-size="4.02" dy="-2.4">2</tspan></text>
<text x="202.2" y="427.5" font-size="6.7" fill="#141414">10<tspan font-size="4.02" dy="-2.4">3</tspan></text>
<text x="212.99999999999997" y="427.5" font-size="6.7" fill="#141414">10<tspan font-size="4.02" dy="-2.4">4</tspan></text>
<text x="223.79999999999998" y="427.5" font-size="6.7" fill="#141414">10<tspan font-size="4.02" dy="-2.4">5</tspan></text>
<path d="M251.4,420.3 L251.4,378.0 L294.8,378.0" fill="none" stroke="#cfcfcf" stroke-width="0.9"/>
<path d="M253.6,420.0 L255.0,413.8 L256.4,402.7 L257.5,386.1 L258.7,378.7 L259.9,385.2 L261.5,400.9 L262.9,410.1 L264.7,414.2 L267.5,415.6 L271.2,413.8 L273.9,411.9 L275.8,412.9 L278.5,414.7 L281.3,417.9 L283.6,420.3 Z" fill="#b4b4b4" stroke="#a5a5a5" stroke-width="0.4"/>
<line x1="251.4" y1="420.3" x2="294.8" y2="420.3" stroke="#444" stroke-width="0.7"/>
<rect x="267.59999999999997" y="378.0" width="27.400000000000023" height="42.30000000000001" fill="none" stroke="#5d5fa2" stroke-width="1.0"/>
<text x="292.4" y="384.5" font-size="6.4" text-anchor="end" font-weight="bold" fill="#141414">26.5%</text>
<text x="248.7" y="385.75" font-size="6.6" text-anchor="end" fill="#141414">400</text>
<line x1="250.20000000000002" y1="383.0" x2="251.4" y2="383.0" stroke="#999" stroke-width="0.5"/>
<text x="248.7" y="395.05" font-size="6.6" text-anchor="end" fill="#141414">300</text>
<line x1="250.20000000000002" y1="392.3" x2="251.4" y2="392.3" stroke="#999" stroke-width="0.5"/>
<text x="248.7" y="404.35" font-size="6.6" text-anchor="end" fill="#141414">200</text>
<line x1="250.20000000000002" y1="401.6" x2="251.4" y2="401.6" stroke="#999" stroke-width="0.5"/>
<text x="248.7" y="413.75" font-size="6.6" text-anchor="end" fill="#141414">100</text>
<line x1="250.20000000000002" y1="411.0" x2="251.4" y2="411.0" stroke="#999" stroke-width="0.5"/>
<text x="248.7" y="423.05" font-size="6.6" text-anchor="end" fill="#141414">0</text>
<line x1="250.20000000000002" y1="420.3" x2="251.4" y2="420.3" stroke="#999" stroke-width="0.5"/>
<text x="254.6" y="427.5" font-size="6.7" fill="#141414">10<tspan font-size="4.02" dy="-2.4">2</tspan></text>
<text x="265.4" y="427.5" font-size="6.7" fill="#141414">10<tspan font-size="4.02" dy="-2.4">3</tspan></text>
<text x="276.2" y="427.5" font-size="6.7" fill="#141414">10<tspan font-size="4.02" dy="-2.4">4</tspan></text>
<text x="287.0" y="427.5" font-size="6.7" fill="#141414">10<tspan font-size="4.02" dy="-2.4">5</tspan></text>
<path d="M55.8,477.2 L55.8,434.6 L99.4,434.6" fill="none" stroke="#cfcfcf" stroke-width="0.9"/>
<path d="M55.9,477.2 L55.9,471.6 L57.7,458.7 L59.5,444.9 L61.4,437.0 L62.3,436.1 L63.2,438.4 L65.1,447.6 L66.9,458.7 L68.8,466.1 L70.6,470.7 L72.5,473.3 L75.2,475.1 L78.9,476.4 L81.7,477.2 Z" fill="#b4b4b4" stroke="#a5a5a5" stroke-width="0.4"/>
<line x1="55.8" y1="477.2" x2="99.4" y2="477.2" stroke="#444" stroke-width="0.7"/>
<rect x="72.2" y="434.6" width="27.40000000000001" height="42.599999999999966" fill="none" stroke="#5d5fa2" stroke-width="1.0"/>
<text x="94.6" y="441.5" font-size="6.4" text-anchor="end" font-weight="bold" fill="#141414">3.2%</text>
<text x="53.7" y="442.45" font-size="6.6" text-anchor="end" fill="#141414">600</text>
<line x1="54.599999999999994" y1="439.7" x2="55.8" y2="439.7" stroke="#999" stroke-width="0.5"/>
<text x="53.7" y="454.55" font-size="6.6" text-anchor="end" fill="#141414">400</text>
<line x1="54.599999999999994" y1="451.8" x2="55.8" y2="451.8" stroke="#999" stroke-width="0.5"/>
<text x="53.7" y="466.65" font-size="6.6" text-anchor="end" fill="#141414">200</text>
<line x1="54.599999999999994" y1="463.9" x2="55.8" y2="463.9" stroke="#999" stroke-width="0.5"/>
<text x="53.7" y="479.95" font-size="6.6" text-anchor="end" fill="#141414">0</text>
<line x1="54.599999999999994" y1="477.2" x2="55.8" y2="477.2" stroke="#999" stroke-width="0.5"/>
<text x="59.0" y="484.4" font-size="6.7" fill="#141414">10<tspan font-size="4.02" dy="-2.4">2</tspan></text>
<text x="69.8" y="484.4" font-size="6.7" fill="#141414">10<tspan font-size="4.02" dy="-2.4">3</tspan></text>
<text x="80.6" y="484.4" font-size="6.7" fill="#141414">10<tspan font-size="4.02" dy="-2.4">4</tspan></text>
<text x="91.4" y="484.4" font-size="6.7" fill="#141414">10<tspan font-size="4.02" dy="-2.4">5</tspan></text>
<path d="M121.6,477.2 L121.6,434.6 L164.5,434.6" fill="none" stroke="#cfcfcf" stroke-width="0.9"/>
<path d="M123.2,477.2 L124.6,471.6 L126.5,460.5 L128.8,444.9 L130.6,437.5 L131.5,436.5 L132.9,440.2 L134.8,449.5 L136.6,459.6 L138.5,467.9 L140.3,472.6 L142.6,475.1 L145.9,476.7 L147.7,477.2 Z" fill="#b4b4b4" stroke="#a5a5a5" stroke-width="0.4"/>
<line x1="121.6" y1="477.2" x2="164.5" y2="477.2" stroke="#444" stroke-width="0.7"/>
<rect x="137.5" y="434.6" width="27.200000000000006" height="42.599999999999966" fill="none" stroke="#5d5fa2" stroke-width="1.0"/>
<text x="161.2" y="440.9" font-size="6.4" text-anchor="end" font-weight="bold" fill="#141414">3.1%</text>
<text x="120.2" y="438.35" font-size="6.6" text-anchor="end" fill="#141414">800</text>
<line x1="120.39999999999999" y1="435.6" x2="121.6" y2="435.6" stroke="#999" stroke-width="0.5"/>
<text x="120.2" y="448.65" font-size="6.6" text-anchor="end" fill="#141414">600</text>
<line x1="120.39999999999999" y1="445.9" x2="121.6" y2="445.9" stroke="#999" stroke-width="0.5"/>
<text x="120.2" y="458.95" font-size="6.6" text-anchor="end" fill="#141414">400</text>
<line x1="120.39999999999999" y1="456.2" x2="121.6" y2="456.2" stroke="#999" stroke-width="0.5"/>
<text x="120.2" y="469.45" font-size="6.6" text-anchor="end" fill="#141414">200</text>
<line x1="120.39999999999999" y1="466.7" x2="121.6" y2="466.7" stroke="#999" stroke-width="0.5"/>
<text x="120.2" y="479.95" font-size="6.6" text-anchor="end" fill="#141414">0</text>
<line x1="120.39999999999999" y1="477.2" x2="121.6" y2="477.2" stroke="#999" stroke-width="0.5"/>
<text x="124.8" y="484.4" font-size="6.7" fill="#141414">10<tspan font-size="4.02" dy="-2.4">2</tspan></text>
<text x="135.6" y="484.4" font-size="6.7" fill="#141414">10<tspan font-size="4.02" dy="-2.4">3</tspan></text>
<text x="146.4" y="484.4" font-size="6.7" fill="#141414">10<tspan font-size="4.02" dy="-2.4">4</tspan></text>
<text x="157.2" y="484.4" font-size="6.7" fill="#141414">10<tspan font-size="4.02" dy="-2.4">5</tspan></text>
<path d="M188.2,477.2 L188.2,434.6 L231.0,434.6" fill="none" stroke="#cfcfcf" stroke-width="0.9"/>
<path d="M189.2,477.0 L190.5,469.8 L192.4,455.9 L194.2,442.1 L195.6,436.5 L196.3,435.6 L197.5,439.3 L199.3,449.5 L201.2,459.6 L203.5,467.9 L206.2,472.1 L209.0,474.4 L212.7,476.2 L216.4,477.2 Z" fill="#b4b4b4" stroke="#a5a5a5" stroke-width="0.4"/>
<line x1="188.2" y1="477.2" x2="231.0" y2="477.2" stroke="#444" stroke-width="0.7"/>
<rect x="203.9" y="434.6" width="27.3" height="42.599999999999966" fill="none" stroke="#5d5fa2" stroke-width="1.0"/>
<text x="228.2" y="441.2" font-size="6.4" text-anchor="end" font-weight="bold" fill="#141414">3.8%</text>
<text x="185.8" y="438.35" font-size="6.6" text-anchor="end" fill="#141414">800</text>
<line x1="187.0" y1="435.6" x2="188.2" y2="435.6" stroke="#999" stroke-width="0.5"/>
<text x="185.8" y="448.65" font-size="6.6" text-anchor="end" fill="#141414">600</text>
<line x1="187.0" y1="445.9" x2="188.2" y2="445.9" stroke="#999" stroke-width="0.5"/>
<text x="185.8" y="458.95" font-size="6.6" text-anchor="end" fill="#141414">400</text>
<line x1="187.0" y1="456.2" x2="188.2" y2="456.2" stroke="#999" stroke-width="0.5"/>
<text x="185.8" y="469.45" font-size="6.6" text-anchor="end" fill="#141414">200</text>
<line x1="187.0" y1="466.7" x2="188.2" y2="466.7" stroke="#999" stroke-width="0.5"/>
<text x="185.8" y="479.95" font-size="6.6" text-anchor="end" fill="#141414">0</text>
<line x1="187.0" y1="477.2" x2="188.2" y2="477.2" stroke="#999" stroke-width="0.5"/>
<text x="191.39999999999998" y="484.4" font-size="6.7" fill="#141414">10<tspan font-size="4.02" dy="-2.4">2</tspan></text>
<text x="202.2" y="484.4" font-size="6.7" fill="#141414">10<tspan font-size="4.02" dy="-2.4">3</tspan></text>
<text x="212.99999999999997" y="484.4" font-size="6.7" fill="#141414">10<tspan font-size="4.02" dy="-2.4">4</tspan></text>
<text x="223.79999999999998" y="484.4" font-size="6.7" fill="#141414">10<tspan font-size="4.02" dy="-2.4">5</tspan></text>
<path d="M251.6,477.2 L251.6,434.6 L294.8,434.6" fill="none" stroke="#cfcfcf" stroke-width="0.9"/>
<path d="M254.1,477.0 L255.5,472.6 L257.3,461.5 L259.2,446.7 L261.0,438.4 L262.7,436.7 L264.2,440.2 L266.1,449.5 L267.9,458.7 L269.8,467.0 L272.1,472.6 L274.4,475.3 L276.7,476.7 L278.0,477.2 Z" fill="#b4b4b4" stroke="#a5a5a5" stroke-width="0.4"/>
<line x1="251.6" y1="477.2" x2="294.8" y2="477.2" stroke="#444" stroke-width="0.7"/>
<rect x="267.59999999999997" y="434.6" width="27.400000000000023" height="42.599999999999966" fill="none" stroke="#5d5fa2" stroke-width="1.0"/>
<text x="292.2" y="441.2" font-size="6.4" text-anchor="end" font-weight="bold" fill="#141414">5.5%</text>
<text x="248.7" y="440.05" font-size="6.6" text-anchor="end" fill="#141414">500</text>
<line x1="250.4" y1="437.3" x2="251.6" y2="437.3" stroke="#999" stroke-width="0.5"/>
<text x="248.7" y="448.05" font-size="6.6" text-anchor="end" fill="#141414">400</text>
<line x1="250.4" y1="445.3" x2="251.6" y2="445.3" stroke="#999" stroke-width="0.5"/>
<text x="248.7" y="456.15" font-size="6.6" text-anchor="end" fill="#141414">300</text>
<line x1="250.4" y1="453.4" x2="251.6" y2="453.4" stroke="#999" stroke-width="0.5"/>
<text x="248.7" y="464.15" font-size="6.6" text-anchor="end" fill="#141414">200</text>
<line x1="250.4" y1="461.4" x2="251.6" y2="461.4" stroke="#999" stroke-width="0.5"/>
<text x="248.7" y="472.15" font-size="6.6" text-anchor="end" fill="#141414">100</text>
<line x1="250.4" y1="469.4" x2="251.6" y2="469.4" stroke="#999" stroke-width="0.5"/>
<text x="248.7" y="480.15" font-size="6.6" text-anchor="end" fill="#141414">0</text>
<line x1="250.4" y1="477.4" x2="251.6" y2="477.4" stroke="#999" stroke-width="0.5"/>
<text x="254.79999999999998" y="484.4" font-size="6.7" fill="#141414">10<tspan font-size="4.02" dy="-2.4">2</tspan></text>
<text x="265.59999999999997" y="484.4" font-size="6.7" fill="#141414">10<tspan font-size="4.02" dy="-2.4">3</tspan></text>
<text x="276.4" y="484.4" font-size="6.7" fill="#141414">10<tspan font-size="4.02" dy="-2.4">4</tspan></text>
<text x="287.2" y="484.4" font-size="6.7" fill="#141414">10<tspan font-size="4.02" dy="-2.4">5</tspan></text>
<rect x="298.00" y="379.20" width="1.60" height="38.50" fill="#555"/>
<text x="302.1" y="401.0" font-size="6.2" textLength="20.2" lengthAdjust="spacingAndGlyphs" fill="#141414">Control</text>
<rect x="297.60" y="436.50" width="1.60" height="40.00" fill="#555"/>
<text x="302.1" y="457.7" font-size="6.2" textLength="23.1" lengthAdjust="spacingAndGlyphs" fill="#141414">GFI1-OE</text>
<path d="M39.6,489 L39.6,459.5 M39.6,489 L66.5,489" fill="none" stroke="#000" stroke-width="0.9"/>
<path d="M39.6,457.6 L38.2,461 L41.0,461 Z" fill="#000" stroke="none" stroke-width="0.8"/>
<path d="M68.4,489 L65.0,487.6 L65.0,490.4 Z" fill="#000" stroke="none" stroke-width="0.8"/>
<text transform="translate(34.6,473.0) rotate(-90)" x="0" y="0" font-size="9.0" text-anchor="middle" textLength="17.6" lengthAdjust="spacingAndGlyphs">Counts</text>
<text x="45.7" y="499.3" font-size="7.7" textLength="17.1" lengthAdjust="spacingAndGlyphs" fill="#141414">CD11b</text>
<rect x="63.00" y="528.50" width="7.80" height="2.70" fill="#51256a"/>
<text x="74.0" y="531.3" font-size="5.5" textLength="16.4" lengthAdjust="spacingAndGlyphs" fill="#141414">Control</text>
<rect x="63.00" y="535.20" width="7.80" height="2.70" fill="#e4981e"/>
<text x="74.0" y="538.2" font-size="5.5" textLength="20.8" lengthAdjust="spacingAndGlyphs" fill="#141414">GFI1-OE</text>
<circle cx="66.9" cy="544.2" r="1.65" fill="#000"/>
<text x="74.0" y="545.9" font-size="5.5" textLength="13.5" lengthAdjust="spacingAndGlyphs" fill="#141414">AML2</text>
<rect x="65.40" y="550.00" width="3.00" height="3.00" fill="#000"/>
<text x="74.0" y="553.0" font-size="5.5" textLength="13.5" lengthAdjust="spacingAndGlyphs" fill="#141414">AML3</text>
<line x1="56.3" y1="542.5" x2="56.3" y2="621.85" stroke="#000" stroke-width="1.1"/>
<line x1="53.3" y1="545.1" x2="56.3" y2="545.1" stroke="#000" stroke-width="1.1"/>
<text x="50.3" y="548.1500000000001" font-size="6.6" text-anchor="end" fill="#141414">30</text>
<line x1="53.3" y1="570.6" x2="56.3" y2="570.6" stroke="#000" stroke-width="1.1"/>
<text x="50.3" y="573.6500000000001" font-size="6.6" text-anchor="end" fill="#141414">20</text>
<line x1="53.3" y1="595.9" x2="56.3" y2="595.9" stroke="#000" stroke-width="1.1"/>
<text x="50.3" y="598.95" font-size="6.6" text-anchor="end" fill="#141414">10</text>
<line x1="53.3" y1="621.4" x2="56.3" y2="621.4" stroke="#000" stroke-width="1.1"/>
<text x="50.3" y="624.45" font-size="6.6" text-anchor="end" fill="#141414">0</text>
<line x1="55.9" y1="621.4" x2="178.8" y2="621.4" stroke="#000" stroke-width="0.9"/>
<line x1="71.6" y1="621.4" x2="71.6" y2="624.0" stroke="#000" stroke-width="0.9"/>
<line x1="101.9" y1="621.4" x2="101.9" y2="624.0" stroke="#000" stroke-width="0.9"/>
<line x1="132.4" y1="621.4" x2="132.4" y2="624.0" stroke="#000" stroke-width="0.9"/>
<line x1="162.8" y1="621.4" x2="162.8" y2="624.0" stroke="#000" stroke-width="0.9"/>
<rect x="62.60" y="588.80" width="6.40" height="32.60" fill="#51256a" stroke="#3c1453" stroke-width="0.6"/>
<rect x="62.30" y="587.70" width="3.00" height="3.00" fill="#000"/>
<circle cx="68.4" cy="588.2" r="1.55" fill="#000"/>
<line x1="63.8" y1="589.0" x2="68.4" y2="588.3" stroke="#000" stroke-width="0.8"/>
<rect x="74.10" y="609.20" width="6.40" height="12.20" fill="#e4981e" stroke="#d4870e" stroke-width="0.6"/>
<line x1="77.3" y1="603.5" x2="77.3" y2="609.4" stroke="#000" stroke-width="1.0"/>
<line x1="77.295" y1="603.5" x2="77.30499999999999" y2="603.5" stroke="#000" stroke-width="1.0"/>
<rect x="75.80" y="602.00" width="3.00" height="3.00" fill="#000"/>
<circle cx="77.3" cy="613.5" r="1.55" fill="#000"/>
<rect x="93.40" y="584.60" width="6.40" height="36.80" fill="#51256a" stroke="#3c1453" stroke-width="0.6"/>
<line x1="96.6" y1="578.2" x2="96.6" y2="584.8" stroke="#000" stroke-width="1.0"/>
<line x1="96.595" y1="578.2" x2="96.60499999999999" y2="578.2" stroke="#000" stroke-width="1.0"/>
<circle cx="96.5" cy="578.2" r="1.55" fill="#000"/>
<rect x="95.00" y="587.70" width="3.00" height="3.00" fill="#000"/>
<rect x="104.60" y="613.80" width="6.40" height="7.60" fill="#e4981e" stroke="#d4870e" stroke-width="0.6"/>
<circle cx="105.8" cy="613.8" r="1.55" fill="#000"/>
<rect x="108.60" y="610.80" width="3.00" height="3.00" fill="#000"/>
<line x1="105.8" y1="613.6" x2="110.1" y2="612.3" stroke="#000" stroke-width="0.8"/>
<rect x="123.60" y="576.20" width="6.40" height="45.20" fill="#51256a" stroke="#3c1453" stroke-width="0.6"/>
<line x1="126.8" y1="568.6" x2="126.8" y2="576.4" stroke="#000" stroke-width="1.0"/>
<line x1="126.795" y1="568.6" x2="126.80499999999999" y2="568.6" stroke="#000" stroke-width="1.0"/>
<rect x="125.30" y="567.10" width="3.00" height="3.00" fill="#000"/>
<circle cx="126.8" cy="582.8" r="1.55" fill="#000"/>
<rect x="135.00" y="600.30" width="6.40" height="21.10" fill="#e4981e" stroke="#d4870e" stroke-width="0.6"/>
<line x1="138.2" y1="587.0" x2="138.2" y2="600.5" stroke="#000" stroke-width="1.0"/>
<line x1="138.195" y1="587.0" x2="138.20499999999998" y2="587.0" stroke="#000" stroke-width="1.0"/>
<rect x="136.70" y="585.50" width="3.00" height="3.00" fill="#000"/>
<circle cx="138.2" cy="611.9" r="1.55" fill="#000"/>
<rect x="154.20" y="556.20" width="6.40" height="65.20" fill="#51256a" stroke="#3c1453" stroke-width="0.6"/>
<circle cx="157.3" cy="553.8" r="1.55" fill="#000"/>
<rect x="155.80" y="554.80" width="3.00" height="3.00" fill="#000"/>
<rect x="165.30" y="601.60" width="6.40" height="19.80" fill="#e4981e" stroke="#d4870e" stroke-width="0.6"/>
<line x1="168.5" y1="594.2" x2="168.5" y2="601.8" stroke="#000" stroke-width="1.0"/>
<line x1="168.495" y1="594.2" x2="168.505" y2="594.2" stroke="#000" stroke-width="1.0"/>
<rect x="167.10" y="592.70" width="3.00" height="3.00" fill="#000"/>
<circle cx="168.6" cy="607.3" r="1.55" fill="#000"/>
<path d="M96.2,575.4 L96.2,573.8 L108.0,573.8 L108.0,575.4" fill="none" stroke="#000" stroke-width="1.0"/>
<path d="M156.7,550.5 L156.7,548.9 L169.0,548.9 L169.0,550.5" fill="none" stroke="#000" stroke-width="1.0"/>
<text x="84.1" y="570.4" font-size="5.0" textLength="1.8" lengthAdjust="spacingAndGlyphs" fill="#141414">*</text>
<text x="87.8" y="571.3" font-size="6.6" textLength="32.0" lengthAdjust="spacingAndGlyphs" fill="#141414"><tspan font-style="italic">p</tspan> = 0.0404</text>
<text x="143.8" y="545.9" font-size="5.0" textLength="3.4" lengthAdjust="spacingAndGlyphs" fill="#141414">**</text>
<text x="150.0" y="546.8" font-size="6.6" textLength="32.6" lengthAdjust="spacingAndGlyphs" fill="#141414"><tspan font-style="italic">p</tspan> = 0.0033</text>
<text x="71.9" y="633.1" font-size="6.2" text-anchor="middle" textLength="10.2" lengthAdjust="spacingAndGlyphs" fill="#141414">Ctrl</text>
<text x="101.6" y="633.1" font-size="6.2" text-anchor="middle" textLength="27.8" lengthAdjust="spacingAndGlyphs" fill="#141414">rhIGFBP7</text>
<text x="132.4" y="633.1" font-size="6.2" text-anchor="middle" textLength="15.8" lengthAdjust="spacingAndGlyphs" fill="#141414">ATRA</text>
<text x="162.9" y="633.1" font-size="6.2" text-anchor="middle" textLength="17.8" lengthAdjust="spacingAndGlyphs" fill="#141414">Combi</text>
<text transform="translate(38.2,582.0) rotate(-90)" x="0" y="0" font-size="7.9" text-anchor="middle" textLength="46.6" lengthAdjust="spacingAndGlyphs">CD11b<tspan font-size="5.2" dy="-2.8">+</tspan><tspan dy="2.8"> cells (%)</tspan></text>
<text x="221.7" y="531.0" font-size="5.4" textLength="17.3" lengthAdjust="spacingAndGlyphs" fill="#141414">Viability</text>
<text x="221.7" y="536.8" font-size="5.4" textLength="26.3" lengthAdjust="spacingAndGlyphs" fill="#141414">(% ± SEM)</text>
<text x="263.4" y="530.8" font-size="5.6" text-anchor="middle" textLength="10.4" lengthAdjust="spacingAndGlyphs" fill="#141414">79.6</text>
<text x="263.4" y="537.0" font-size="5.6" text-anchor="middle" textLength="10.6" lengthAdjust="spacingAndGlyphs" fill="#141414">±3.2</text>
<text x="276.0" y="530.8" font-size="5.6" text-anchor="middle" textLength="10.4" lengthAdjust="spacingAndGlyphs" fill="#141414">75.7</text>
<text x="276.0" y="537.0" font-size="5.6" text-anchor="middle" textLength="10.6" lengthAdjust="spacingAndGlyphs" fill="#141414">±4.7</text>
<text x="293.8" y="530.8" font-size="5.6" text-anchor="middle" textLength="10.4" lengthAdjust="spacingAndGlyphs" fill="#141414">76.6</text>
<text x="293.8" y="537.0" font-size="5.6" text-anchor="middle" textLength="10.6" lengthAdjust="spacingAndGlyphs" fill="#141414">±3.5</text>
<text x="306.4" y="530.8" font-size="5.6" text-anchor="middle" textLength="10.4" lengthAdjust="spacingAndGlyphs" fill="#141414">74.1</text>
<text x="306.4" y="537.0" font-size="5.6" text-anchor="middle" textLength="10.6" lengthAdjust="spacingAndGlyphs" fill="#141414">±3.3</text>
<text x="324.3" y="530.8" font-size="5.6" text-anchor="middle" textLength="10.4" lengthAdjust="spacingAndGlyphs" fill="#141414">65.7</text>
<text x="324.3" y="537.0" font-size="5.6" text-anchor="middle" textLength="10.6" lengthAdjust="spacingAndGlyphs" fill="#141414">±6.7</text>
<text x="337.0" y="530.8" font-size="5.6" text-anchor="middle" textLength="10.4" lengthAdjust="spacingAndGlyphs" fill="#141414">70.9</text>
<text x="337.0" y="537.0" font-size="5.6" text-anchor="middle" textLength="10.6" lengthAdjust="spacingAndGlyphs" fill="#141414">±5.6</text>
<text x="354.7" y="530.8" font-size="5.6" text-anchor="middle" textLength="10.4" lengthAdjust="spacingAndGlyphs" fill="#141414">73.2</text>
<text x="354.7" y="537.0" font-size="5.6" text-anchor="middle" textLength="10.6" lengthAdjust="spacingAndGlyphs" fill="#141414">±4.2</text>
<text x="367.5" y="530.8" font-size="5.6" text-anchor="middle" textLength="10.4" lengthAdjust="spacingAndGlyphs" fill="#141414">75.2</text>
<text x="367.5" y="537.0" font-size="5.6" text-anchor="middle" textLength="10.6" lengthAdjust="spacingAndGlyphs" fill="#141414">±3.4</text>
<line x1="254.5" y1="542.8" x2="254.5" y2="621.95" stroke="#000" stroke-width="1.1"/>
<line x1="251.5" y1="545.3" x2="254.5" y2="545.3" stroke="#000" stroke-width="1.1"/>
<text x="247.8" y="548.15" font-size="6.0" text-anchor="end" fill="#141414">60</text>
<line x1="251.5" y1="557.9" x2="254.5" y2="557.9" stroke="#000" stroke-width="1.1"/>
<text x="247.8" y="560.75" font-size="6.0" text-anchor="end" fill="#141414">50</text>
<line x1="251.5" y1="570.6" x2="254.5" y2="570.6" stroke="#000" stroke-width="1.1"/>
<text x="247.8" y="573.45" font-size="6.0" text-anchor="end" fill="#141414">40</text>
<line x1="251.5" y1="583.3" x2="254.5" y2="583.3" stroke="#000" stroke-width="1.1"/>
<text x="247.8" y="586.15" font-size="6.0" text-anchor="end" fill="#141414">30</text>
<line x1="251.5" y1="596.0" x2="254.5" y2="596.0" stroke="#000" stroke-width="1.1"/>
<text x="247.8" y="598.85" font-size="6.0" text-anchor="end" fill="#141414">20</text>
<line x1="251.5" y1="608.8" x2="254.5" y2="608.8" stroke="#000" stroke-width="1.1"/>
<text x="247.8" y="611.65" font-size="6.0" text-anchor="end" fill="#141414">10</text>
<line x1="251.5" y1="621.5" x2="254.5" y2="621.5" stroke="#000" stroke-width="1.1"/>
<text x="247.8" y="624.35" font-size="6.0" text-anchor="end" fill="#141414">0</text>
<line x1="254.1" y1="621.5" x2="375.4" y2="621.5" stroke="#000" stroke-width="0.9"/>
<line x1="269.8" y1="621.5" x2="269.8" y2="623.9" stroke="#000" stroke-width="0.9"/>
<line x1="300.3" y1="621.5" x2="300.3" y2="623.9" stroke="#000" stroke-width="0.9"/>
<line x1="330.6" y1="621.5" x2="330.6" y2="623.9" stroke="#000" stroke-width="0.9"/>
<line x1="361.1" y1="621.5" x2="361.1" y2="623.9" stroke="#000" stroke-width="0.9"/>
<rect x="261.10" y="614.70" width="6.00" height="6.80" fill="#51256a" stroke="#3c1453" stroke-width="0.6"/>
<line x1="264.1" y1="608.6" x2="264.1" y2="614.9" stroke="#000" stroke-width="1.0"/>
<line x1="262.5" y1="608.6" x2="265.70000000000005" y2="608.6" stroke="#000" stroke-width="1.0"/>
<rect x="272.60" y="620.40" width="5.20" height="1.10" fill="#e4981e"/>
<line x1="275.20000000000005" y1="619.4" x2="275.20000000000005" y2="620.9" stroke="#000" stroke-width="1.0"/>
<line x1="273.6" y1="619.4" x2="276.80000000000007" y2="619.4" stroke="#000" stroke-width="1.0"/>
<rect x="291.50" y="610.90" width="6.00" height="10.60" fill="#51256a" stroke="#3c1453" stroke-width="0.6"/>
<line x1="294.5" y1="604.6" x2="294.5" y2="611.1" stroke="#000" stroke-width="1.0"/>
<line x1="292.9" y1="604.6" x2="296.1" y2="604.6" stroke="#000" stroke-width="1.0"/>
<rect x="302.80" y="609.40" width="6.00" height="12.10" fill="#e4981e" stroke="#d4870e" stroke-width="0.6"/>
<line x1="305.8" y1="605.5" x2="305.8" y2="609.6" stroke="#000" stroke-width="1.0"/>
<line x1="304.2" y1="605.5" x2="307.40000000000003" y2="605.5" stroke="#000" stroke-width="1.0"/>
<rect x="322.00" y="611.90" width="6.00" height="9.60" fill="#51256a" stroke="#3c1453" stroke-width="0.6"/>
<line x1="325.0" y1="607.6" x2="325.0" y2="612.1" stroke="#000" stroke-width="1.0"/>
<line x1="323.4" y1="607.6" x2="326.6" y2="607.6" stroke="#000" stroke-width="1.0"/>
<rect x="333.40" y="616.60" width="6.00" height="4.90" fill="#e4981e" stroke="#d4870e" stroke-width="0.6"/>
<line x1="336.40000000000003" y1="614.0" x2="336.40000000000003" y2="616.8" stroke="#000" stroke-width="1.0"/>
<line x1="334.8" y1="614.0" x2="338.00000000000006" y2="614.0" stroke="#000" stroke-width="1.0"/>
<rect x="352.40" y="572.60" width="6.00" height="48.90" fill="#51256a" stroke="#3c1453" stroke-width="0.6"/>
<line x1="355.40000000000003" y1="567.7" x2="355.40000000000003" y2="572.8" stroke="#000" stroke-width="1.0"/>
<line x1="353.8" y1="567.7" x2="357.00000000000006" y2="567.7" stroke="#000" stroke-width="1.0"/>
<rect x="363.90" y="577.80" width="6.00" height="43.70" fill="#e4981e" stroke="#d4870e" stroke-width="0.6"/>
<line x1="366.90000000000003" y1="565.5" x2="366.90000000000003" y2="578.0" stroke="#000" stroke-width="1.0"/>
<line x1="365.3" y1="565.5" x2="368.50000000000006" y2="565.5" stroke="#000" stroke-width="1.0"/>
<rect x="262.30" y="554.10" width="7.00" height="2.60" fill="#51256a"/>
<text x="272.8" y="557.2" font-size="5.5" textLength="16.4" lengthAdjust="spacingAndGlyphs" fill="#141414">Control</text>
<rect x="262.30" y="561.70" width="7.00" height="2.60" fill="#e4981e"/>
<text x="272.8" y="564.6" font-size="5.5" textLength="20.9" lengthAdjust="spacingAndGlyphs" fill="#141414">GFI1-OE</text>
<text x="270.0" y="633.0" font-size="6.2" text-anchor="middle" textLength="10.3" lengthAdjust="spacingAndGlyphs" fill="#141414">Ctrl</text>
<text x="300.2" y="633.0" font-size="6.2" text-anchor="middle" textLength="12.2" lengthAdjust="spacingAndGlyphs" fill="#141414">TCP</text>
<text x="330.1" y="633.0" font-size="6.2" text-anchor="middle" textLength="15.2" lengthAdjust="spacingAndGlyphs" fill="#141414">ATRA</text>
<text x="360.8" y="633.0" font-size="6.2" text-anchor="middle" textLength="18.4" lengthAdjust="spacingAndGlyphs" fill="#141414">Combi</text>
<text transform="translate(235.6,592.3) rotate(-90)" x="0" y="0" font-size="7.9" text-anchor="middle" textLength="46.2" lengthAdjust="spacingAndGlyphs">CD11b<tspan font-size="5.2" dy="-2.8">+</tspan><tspan dy="2.8"> cells (%)</tspan></text>
</svg>
</div></body></html>
